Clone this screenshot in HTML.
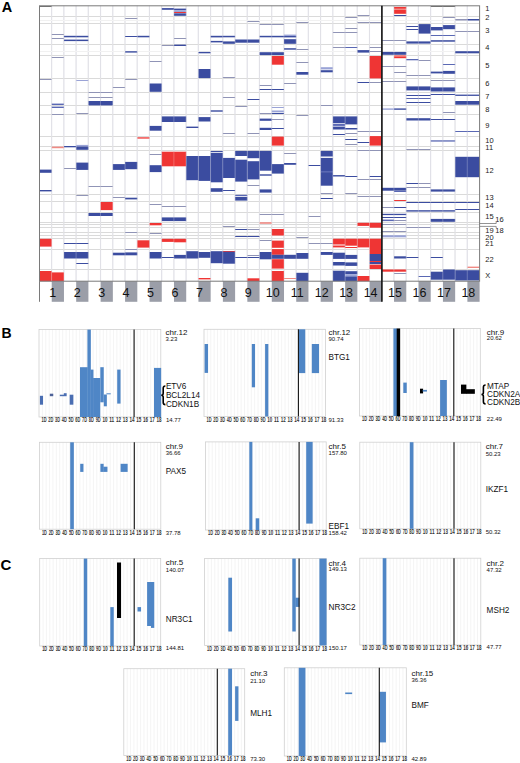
<!DOCTYPE html><html><head><meta charset="utf-8"><style>html,body{margin:0;padding:0;background:#fff;}svg{display:block;}text{font-family:"Liberation Sans",sans-serif;}</style></head><body>
<svg width="520" height="763" viewBox="0 0 520 763">
<rect x="0" y="0" width="520" height="763" fill="#fff"/>
<text x="1.7" y="11.6" font-size="14.5" font-weight="bold" fill="#000">A</text>
<line x1="51.62" y1="5.8" x2="51.62" y2="281.2" stroke="#d8d8e0" stroke-width="1.1"/>
<line x1="63.85" y1="5.8" x2="63.85" y2="281.2" stroke="#d8d8e0" stroke-width="1.1"/>
<line x1="76.08" y1="5.8" x2="76.08" y2="281.2" stroke="#d8d8e0" stroke-width="1.1"/>
<line x1="88.30" y1="5.8" x2="88.30" y2="281.2" stroke="#d8d8e0" stroke-width="1.1"/>
<line x1="100.53" y1="5.8" x2="100.53" y2="281.2" stroke="#d8d8e0" stroke-width="1.1"/>
<line x1="112.75" y1="5.8" x2="112.75" y2="281.2" stroke="#d8d8e0" stroke-width="1.1"/>
<line x1="124.98" y1="5.8" x2="124.98" y2="281.2" stroke="#d8d8e0" stroke-width="1.1"/>
<line x1="137.20" y1="5.8" x2="137.20" y2="281.2" stroke="#d8d8e0" stroke-width="1.1"/>
<line x1="149.43" y1="5.8" x2="149.43" y2="281.2" stroke="#d8d8e0" stroke-width="1.1"/>
<line x1="161.65" y1="5.8" x2="161.65" y2="281.2" stroke="#d8d8e0" stroke-width="1.1"/>
<line x1="173.88" y1="5.8" x2="173.88" y2="281.2" stroke="#d8d8e0" stroke-width="1.1"/>
<line x1="186.10" y1="5.8" x2="186.10" y2="281.2" stroke="#d8d8e0" stroke-width="1.1"/>
<line x1="198.33" y1="5.8" x2="198.33" y2="281.2" stroke="#d8d8e0" stroke-width="1.1"/>
<line x1="210.55" y1="5.8" x2="210.55" y2="281.2" stroke="#d8d8e0" stroke-width="1.1"/>
<line x1="222.78" y1="5.8" x2="222.78" y2="281.2" stroke="#d8d8e0" stroke-width="1.1"/>
<line x1="235.00" y1="5.8" x2="235.00" y2="281.2" stroke="#d8d8e0" stroke-width="1.1"/>
<line x1="247.23" y1="5.8" x2="247.23" y2="281.2" stroke="#d8d8e0" stroke-width="1.1"/>
<line x1="259.45" y1="5.8" x2="259.45" y2="281.2" stroke="#d8d8e0" stroke-width="1.1"/>
<line x1="271.68" y1="5.8" x2="271.68" y2="281.2" stroke="#d8d8e0" stroke-width="1.1"/>
<line x1="283.90" y1="5.8" x2="283.90" y2="281.2" stroke="#d8d8e0" stroke-width="1.1"/>
<line x1="296.12" y1="5.8" x2="296.12" y2="281.2" stroke="#d8d8e0" stroke-width="1.1"/>
<line x1="308.35" y1="5.8" x2="308.35" y2="281.2" stroke="#d8d8e0" stroke-width="1.1"/>
<line x1="320.57" y1="5.8" x2="320.57" y2="281.2" stroke="#d8d8e0" stroke-width="1.1"/>
<line x1="332.80" y1="5.8" x2="332.80" y2="281.2" stroke="#d8d8e0" stroke-width="1.1"/>
<line x1="345.03" y1="5.8" x2="345.03" y2="281.2" stroke="#d8d8e0" stroke-width="1.1"/>
<line x1="357.25" y1="5.8" x2="357.25" y2="281.2" stroke="#d8d8e0" stroke-width="1.1"/>
<line x1="369.48" y1="5.8" x2="369.48" y2="281.2" stroke="#d8d8e0" stroke-width="1.1"/>
<line x1="381.70" y1="5.8" x2="381.70" y2="281.2" stroke="#d8d8e0" stroke-width="1.1"/>
<line x1="393.93" y1="5.8" x2="393.93" y2="281.2" stroke="#d8d8e0" stroke-width="1.1"/>
<line x1="406.15" y1="5.8" x2="406.15" y2="281.2" stroke="#d8d8e0" stroke-width="1.1"/>
<line x1="418.38" y1="5.8" x2="418.38" y2="281.2" stroke="#d8d8e0" stroke-width="1.1"/>
<line x1="430.60" y1="5.8" x2="430.60" y2="281.2" stroke="#d8d8e0" stroke-width="1.1"/>
<line x1="442.83" y1="5.8" x2="442.83" y2="281.2" stroke="#d8d8e0" stroke-width="1.1"/>
<line x1="455.05" y1="5.8" x2="455.05" y2="281.2" stroke="#d8d8e0" stroke-width="1.1"/>
<line x1="467.28" y1="5.8" x2="467.28" y2="281.2" stroke="#d8d8e0" stroke-width="1.1"/>
<line x1="39.5" y1="16.5" x2="479.6" y2="16.5" stroke="#dadada" stroke-width="1"/>
<line x1="39.5" y1="23.5" x2="479.6" y2="23.5" stroke="#dadada" stroke-width="1"/>
<line x1="39.5" y1="44.5" x2="479.6" y2="44.5" stroke="#dadada" stroke-width="1"/>
<line x1="39.5" y1="55.5" x2="479.6" y2="55.5" stroke="#dadada" stroke-width="1"/>
<line x1="39.5" y1="78.5" x2="479.6" y2="78.5" stroke="#dadada" stroke-width="1"/>
<line x1="39.5" y1="92.5" x2="479.6" y2="92.5" stroke="#dadada" stroke-width="1"/>
<line x1="39.5" y1="105.5" x2="479.6" y2="105.5" stroke="#dadada" stroke-width="1"/>
<line x1="39.5" y1="114.5" x2="479.6" y2="114.5" stroke="#dadada" stroke-width="1"/>
<line x1="39.5" y1="136.5" x2="479.6" y2="136.5" stroke="#dadada" stroke-width="1"/>
<line x1="39.5" y1="146.5" x2="479.6" y2="146.5" stroke="#dadada" stroke-width="1"/>
<line x1="39.5" y1="150.5" x2="479.6" y2="150.5" stroke="#dadada" stroke-width="1"/>
<line x1="39.5" y1="194.5" x2="479.6" y2="194.5" stroke="#dadada" stroke-width="1"/>
<line x1="39.5" y1="201.5" x2="479.6" y2="201.5" stroke="#dadada" stroke-width="1"/>
<line x1="39.5" y1="212.5" x2="479.6" y2="212.5" stroke="#dadada" stroke-width="1"/>
<line x1="39.5" y1="222.5" x2="479.6" y2="222.5" stroke="#dadada" stroke-width="1"/>
<line x1="39.5" y1="224.5" x2="479.6" y2="224.5" stroke="#dadada" stroke-width="1"/>
<line x1="39.5" y1="227.5" x2="479.6" y2="227.5" stroke="#dadada" stroke-width="1"/>
<line x1="39.5" y1="232.5" x2="479.6" y2="232.5" stroke="#dadada" stroke-width="1"/>
<line x1="39.5" y1="235.5" x2="479.6" y2="235.5" stroke="#dadada" stroke-width="1"/>
<line x1="39.5" y1="238.5" x2="479.6" y2="238.5" stroke="#dadada" stroke-width="1"/>
<line x1="39.5" y1="249.5" x2="479.6" y2="249.5" stroke="#dadada" stroke-width="1"/>
<line x1="39.5" y1="269.5" x2="479.6" y2="269.5" stroke="#dadada" stroke-width="1"/>
<line x1="39.5" y1="20.5" x2="479.6" y2="20.5" stroke="#f1f1f1" stroke-width="1"/>
<line x1="39.5" y1="51.5" x2="479.6" y2="51.5" stroke="#f1f1f1" stroke-width="1"/>
<rect x="51.73" y="34" width="12.23" height="1.00" fill="#9094b6"/>
<rect x="51.73" y="38" width="12.23" height="1.00" fill="#9094b6"/>
<rect x="63.95" y="35.8" width="24.45" height="1.50" fill="#3b4ca0"/>
<rect x="63.95" y="39.6" width="24.45" height="1.50" fill="#3b4ca0"/>
<rect x="51.73" y="57" width="12.23" height="1.00" fill="#9094b6"/>
<rect x="39.50" y="6" width="12.23" height="1.00" fill="#707070"/>
<rect x="430.70" y="6" width="24.45" height="1.00" fill="#707070"/>
<rect x="125.08" y="18" width="12.22" height="1.00" fill="#9094b6"/>
<rect x="125.08" y="36" width="12.22" height="1.00" fill="#3b4ca0"/>
<rect x="125.08" y="51.2" width="12.22" height="1.40" fill="#3b4ca0"/>
<rect x="137.30" y="35.8" width="12.22" height="1.50" fill="#3b4ca0"/>
<rect x="149.53" y="61" width="12.22" height="1.00" fill="#9094b6"/>
<rect x="161.75" y="8.1" width="12.23" height="1.70" fill="#3b4ca0"/>
<rect x="161.75" y="45" width="12.23" height="1.00" fill="#9094b6"/>
<rect x="173.98" y="8.6" width="12.22" height="1.60" fill="#3b4ca0"/>
<rect x="173.98" y="10.2" width="12.22" height="2.30" fill="#9aa3d6"/>
<rect x="173.98" y="12" width="12.22" height="1.00" fill="#ef3534"/>
<rect x="173.98" y="13.3" width="12.22" height="2.50" fill="#3b4ca0"/>
<rect x="173.98" y="38" width="12.22" height="1.00" fill="#9094b6"/>
<rect x="173.98" y="44.6" width="12.22" height="1.40" fill="#3b4ca0"/>
<rect x="198.43" y="51.9" width="12.23" height="1.40" fill="#3b4ca0"/>
<rect x="198.43" y="69.0" width="12.23" height="9.10" fill="#3b4ca0"/>
<rect x="210.65" y="35.8" width="12.22" height="1.60" fill="#3b4ca0"/>
<rect x="210.65" y="40.9" width="12.22" height="1.50" fill="#3b4ca0"/>
<rect x="222.88" y="35.8" width="12.22" height="1.50" fill="#3b4ca0"/>
<rect x="222.88" y="41.4" width="12.22" height="2.40" fill="#3b4ca0"/>
<rect x="235.10" y="39.5" width="12.22" height="3.20" fill="#3b4ca0"/>
<rect x="247.33" y="21" width="12.22" height="1.00" fill="#9094b6"/>
<rect x="247.33" y="39.5" width="12.22" height="3.20" fill="#3b4ca0"/>
<rect x="259.55" y="24" width="24.45" height="1.00" fill="#9094b6"/>
<rect x="259.55" y="35.8" width="24.45" height="1.50" fill="#3b4ca0"/>
<rect x="259.55" y="52.2" width="24.45" height="2.90" fill="#3b4ca0"/>
<rect x="271.78" y="56.0" width="12.22" height="8.70" fill="#ef3534"/>
<rect x="284.00" y="34.6" width="12.23" height="1.40" fill="#9aa3d6"/>
<rect x="284.00" y="36.0" width="12.23" height="1.40" fill="#3b4ca0"/>
<rect x="284.00" y="39.2" width="12.23" height="4.60" fill="#3b4ca0"/>
<rect x="284.00" y="48.2" width="12.23" height="1.50" fill="#3b4ca0"/>
<rect x="296.23" y="22" width="12.23" height="1.00" fill="#9094b6"/>
<rect x="296.23" y="49" width="12.23" height="1.00" fill="#9094b6"/>
<rect x="296.23" y="62" width="12.23" height="1.00" fill="#9094b6"/>
<rect x="296.23" y="72.0" width="12.23" height="2.70" fill="#3b4ca0"/>
<rect x="320.68" y="67.2" width="12.23" height="2.20" fill="#9aa3d6"/>
<rect x="320.68" y="70.2" width="12.23" height="2.10" fill="#3b4ca0"/>
<rect x="332.90" y="32" width="24.45" height="1.00" fill="#9094b6"/>
<rect x="332.90" y="47" width="12.23" height="1.00" fill="#9094b6"/>
<rect x="345.13" y="17" width="12.22" height="1.00" fill="#9094b6"/>
<rect x="345.13" y="28" width="12.22" height="1.00" fill="#9094b6"/>
<rect x="345.13" y="47" width="12.22" height="1.00" fill="#5a68b4"/>
<rect x="357.35" y="15" width="12.23" height="1.00" fill="#9094b6"/>
<rect x="357.35" y="22" width="12.23" height="1.00" fill="#9094b6"/>
<rect x="357.35" y="50.1" width="12.23" height="2.50" fill="#3b4ca0"/>
<rect x="369.58" y="22" width="12.23" height="1.00" fill="#9094b6"/>
<rect x="369.58" y="47" width="12.23" height="1.00" fill="#9094b6"/>
<rect x="369.58" y="51" width="12.23" height="1.00" fill="#9094b6"/>
<rect x="369.58" y="56.0" width="12.23" height="22.40" fill="#ef3534"/>
<rect x="381.80" y="40" width="24.45" height="1.00" fill="#9094b6"/>
<rect x="381.80" y="51.9" width="24.45" height="2.90" fill="#3b4ca0"/>
<rect x="381.80" y="66" width="24.45" height="1.00" fill="#9094b6"/>
<rect x="394.03" y="6.9" width="12.23" height="1.90" fill="#ef3534"/>
<rect x="394.03" y="9" width="12.23" height="1.00" fill="#f08a84"/>
<rect x="394.03" y="10.0" width="12.23" height="3.80" fill="#ef3534"/>
<rect x="394.03" y="15" width="12.23" height="1.00" fill="#3b4ca0"/>
<rect x="394.03" y="55" width="12.23" height="1.00" fill="#f08a84"/>
<rect x="394.03" y="56.3" width="12.23" height="1.90" fill="#ef3534"/>
<rect x="394.03" y="72" width="12.23" height="1.00" fill="#9094b6"/>
<rect x="406.25" y="26" width="12.22" height="1.00" fill="#3b4ca0"/>
<rect x="406.25" y="29" width="12.22" height="1.00" fill="#3b4ca0"/>
<rect x="406.25" y="41.4" width="24.45" height="2.20" fill="#3b4ca0"/>
<rect x="406.25" y="59.0" width="12.22" height="1.30" fill="#5a68b4"/>
<rect x="418.48" y="24.1" width="12.23" height="9.50" fill="#3b4ca0"/>
<rect x="418.48" y="60" width="12.23" height="1.00" fill="#9094b6"/>
<rect x="430.70" y="27.0" width="12.23" height="3.40" fill="#3b4ca0"/>
<rect x="430.70" y="35" width="24.45" height="1.00" fill="#5a68b4"/>
<rect x="430.70" y="40.2" width="24.45" height="1.50" fill="#3b4ca0"/>
<rect x="430.70" y="71.6" width="12.23" height="1.80" fill="#3b4ca0"/>
<rect x="442.93" y="17" width="12.22" height="1.00" fill="#9094b6"/>
<rect x="442.93" y="25" width="12.22" height="1.00" fill="#5a68b4"/>
<rect x="442.93" y="25.6" width="12.22" height="3.60" fill="#3b4ca0"/>
<rect x="442.93" y="64" width="12.22" height="1.00" fill="#5a68b4"/>
<rect x="442.93" y="70.9" width="12.22" height="2.90" fill="#3b4ca0"/>
<rect x="455.15" y="19.0" width="12.23" height="1.50" fill="#9094b6"/>
<rect x="455.15" y="31" width="24.45" height="1.00" fill="#9094b6"/>
<rect x="455.15" y="51.2" width="24.45" height="2.10" fill="#3b4ca0"/>
<rect x="467.38" y="19.0" width="12.22" height="1.50" fill="#3b4ca0"/>
<rect x="39.50" y="79" width="12.23" height="1.00" fill="#9094b6"/>
<rect x="51.73" y="103.6" width="12.23" height="1.40" fill="#5a68b4"/>
<rect x="51.73" y="106.6" width="12.23" height="1.40" fill="#5a68b4"/>
<rect x="51.73" y="114" width="12.23" height="1.00" fill="#9094b6"/>
<rect x="51.73" y="146.6" width="12.23" height="1.60" fill="#f08a84"/>
<rect x="63.95" y="146.0" width="12.23" height="1.30" fill="#3b4ca0"/>
<rect x="76.18" y="80" width="12.22" height="1.00" fill="#9aa3d6"/>
<rect x="76.18" y="113" width="12.22" height="1.00" fill="#9094b6"/>
<rect x="76.18" y="144.9" width="12.22" height="1.60" fill="#9aa3d6"/>
<rect x="76.18" y="146.5" width="12.22" height="3.30" fill="#3b4ca0"/>
<rect x="88.40" y="92" width="24.45" height="1.00" fill="#9094b6"/>
<rect x="88.40" y="97" width="24.45" height="1.00" fill="#9094b6"/>
<rect x="88.40" y="101.0" width="24.45" height="4.40" fill="#3b4ca0"/>
<rect x="112.85" y="87" width="12.23" height="1.00" fill="#9094b6"/>
<rect x="125.08" y="79" width="12.22" height="1.00" fill="#9094b6"/>
<rect x="149.53" y="83.5" width="12.22" height="8.30" fill="#3b4ca0"/>
<rect x="149.53" y="125.9" width="12.22" height="4.80" fill="#3b4ca0"/>
<rect x="137.30" y="137.3" width="12.22" height="1.30" fill="#ef3534"/>
<rect x="161.75" y="116.4" width="24.45" height="5.60" fill="#3b4ca0"/>
<rect x="186.20" y="126.6" width="12.22" height="1.40" fill="#3b4ca0"/>
<rect x="198.43" y="117.1" width="12.23" height="4.40" fill="#3b4ca0"/>
<rect x="210.65" y="110.3" width="12.22" height="1.40" fill="#3b4ca0"/>
<rect x="222.88" y="77" width="12.22" height="1.00" fill="#9094b6"/>
<rect x="222.88" y="97" width="12.22" height="1.00" fill="#9094b6"/>
<rect x="222.88" y="133" width="12.22" height="1.00" fill="#9094b6"/>
<rect x="235.10" y="106" width="12.22" height="1.00" fill="#9094b6"/>
<rect x="247.33" y="99" width="12.22" height="1.00" fill="#3b4ca0"/>
<rect x="247.33" y="133" width="12.22" height="1.00" fill="#9094b6"/>
<rect x="259.55" y="85" width="12.23" height="1.00" fill="#9094b6"/>
<rect x="259.55" y="89" width="12.23" height="1.00" fill="#3b4ca0"/>
<rect x="259.55" y="113" width="12.23" height="1.00" fill="#9094b6"/>
<rect x="259.55" y="118.6" width="12.23" height="2.20" fill="#3b4ca0"/>
<rect x="259.55" y="127.8" width="12.23" height="2.20" fill="#3b4ca0"/>
<rect x="271.78" y="89" width="12.22" height="1.00" fill="#3b4ca0"/>
<rect x="271.78" y="107" width="12.22" height="1.00" fill="#9aa3d6"/>
<rect x="271.78" y="110.5" width="12.22" height="1.80" fill="#9aa3d6"/>
<rect x="271.78" y="113" width="12.22" height="1.00" fill="#3b4ca0"/>
<rect x="271.78" y="119" width="12.22" height="1.00" fill="#9094b6"/>
<rect x="271.78" y="128" width="12.22" height="1.00" fill="#3b4ca0"/>
<rect x="271.78" y="136.6" width="12.22" height="9.00" fill="#ef3534"/>
<rect x="284.00" y="83" width="12.23" height="1.00" fill="#9094b6"/>
<rect x="296.23" y="115" width="12.23" height="1.00" fill="#9094b6"/>
<rect x="320.68" y="105" width="12.23" height="1.00" fill="#9094b6"/>
<rect x="357.35" y="82" width="12.23" height="1.00" fill="#3b4ca0"/>
<rect x="357.35" y="131" width="24.45" height="1.00" fill="#9094b6"/>
<rect x="357.35" y="142" width="12.23" height="1.00" fill="#3b4ca0"/>
<rect x="369.58" y="82" width="12.23" height="1.00" fill="#9094b6"/>
<rect x="369.58" y="136.1" width="12.23" height="9.50" fill="#ef3534"/>
<rect x="332.90" y="116.4" width="12.23" height="6.60" fill="#3b4ca0"/>
<rect x="332.90" y="123.7" width="12.23" height="2.20" fill="#5a68b4"/>
<rect x="332.90" y="126.6" width="12.23" height="2.90" fill="#3b4ca0"/>
<rect x="332.90" y="134" width="12.23" height="1.00" fill="#3b4ca0"/>
<rect x="345.13" y="116.4" width="12.22" height="8.00" fill="#3b4ca0"/>
<rect x="345.13" y="128.0" width="12.22" height="1.50" fill="#3b4ca0"/>
<rect x="345.13" y="133" width="12.22" height="1.00" fill="#9094b6"/>
<rect x="345.13" y="139" width="12.22" height="1.00" fill="#3b4ca0"/>
<rect x="345.13" y="144" width="12.22" height="1.00" fill="#9094b6"/>
<rect x="381.80" y="81" width="24.45" height="1.00" fill="#9094b6"/>
<rect x="381.80" y="108.4" width="12.22" height="1.40" fill="#9aa3d6"/>
<rect x="394.03" y="108.4" width="12.23" height="1.40" fill="#3b4ca0"/>
<rect x="406.25" y="75" width="24.45" height="1.00" fill="#9094b6"/>
<rect x="406.25" y="86.4" width="24.45" height="4.00" fill="#3b4ca0"/>
<rect x="406.25" y="95" width="24.45" height="1.00" fill="#3b4ca0"/>
<rect x="406.25" y="98" width="24.45" height="1.00" fill="#5a68b4"/>
<rect x="406.25" y="102" width="24.45" height="1.00" fill="#3b4ca0"/>
<rect x="406.25" y="118.2" width="24.45" height="2.30" fill="#3b4ca0"/>
<rect x="406.25" y="149" width="24.45" height="1.00" fill="#9094b6"/>
<rect x="430.70" y="80" width="24.45" height="1.00" fill="#9094b6"/>
<rect x="430.70" y="87.4" width="24.45" height="4.10" fill="#3b4ca0"/>
<rect x="430.70" y="94" width="24.45" height="1.00" fill="#3b4ca0"/>
<rect x="430.70" y="119" width="24.45" height="1.00" fill="#3b4ca0"/>
<rect x="430.70" y="140.3" width="24.45" height="1.30" fill="#5a68b4"/>
<rect x="442.93" y="112" width="12.22" height="1.00" fill="#9094b6"/>
<rect x="455.15" y="94.6" width="24.45" height="1.30" fill="#3b4ca0"/>
<rect x="455.15" y="101.0" width="24.45" height="3.70" fill="#3b4ca0"/>
<rect x="455.15" y="131" width="24.45" height="1.00" fill="#5a68b4"/>
<rect x="76.18" y="162.6" width="12.22" height="7.30" fill="#3b4ca0"/>
<rect x="76.18" y="195" width="12.22" height="1.00" fill="#9094b6"/>
<rect x="39.50" y="169.6" width="12.23" height="3.20" fill="#3b4ca0"/>
<rect x="39.50" y="190.0" width="12.23" height="1.40" fill="#3b4ca0"/>
<rect x="63.95" y="168" width="12.23" height="1.00" fill="#9094b6"/>
<rect x="88.40" y="186" width="24.45" height="1.00" fill="#9094b6"/>
<rect x="100.62" y="202.0" width="12.23" height="8.10" fill="#ef3534"/>
<rect x="88.40" y="213.0" width="24.45" height="3.00" fill="#3b4ca0"/>
<rect x="112.85" y="164.1" width="12.23" height="5.80" fill="#3b4ca0"/>
<rect x="112.85" y="197" width="12.23" height="1.00" fill="#9094b6"/>
<rect x="125.08" y="161.9" width="12.22" height="7.30" fill="#3b4ca0"/>
<rect x="125.08" y="197.7" width="12.22" height="1.70" fill="#3b4ca0"/>
<rect x="149.53" y="154" width="12.22" height="1.00" fill="#9094b6"/>
<rect x="149.53" y="165.2" width="12.22" height="6.90" fill="#3b4ca0"/>
<rect x="149.53" y="204" width="12.22" height="1.00" fill="#9094b6"/>
<rect x="161.75" y="151.7" width="24.45" height="14.60" fill="#ef3534"/>
<rect x="161.75" y="206" width="24.45" height="1.00" fill="#9094b6"/>
<rect x="161.75" y="217.4" width="24.45" height="3.70" fill="#3b4ca0"/>
<rect x="186.20" y="156.0" width="12.22" height="24.20" fill="#3b4ca0"/>
<rect x="198.43" y="156.0" width="12.23" height="24.90" fill="#3b4ca0"/>
<rect x="210.65" y="151" width="12.22" height="1.00" fill="#3b4ca0"/>
<rect x="210.65" y="152.8" width="12.22" height="29.50" fill="#3b4ca0"/>
<rect x="210.65" y="188.2" width="12.22" height="3.60" fill="#3b4ca0"/>
<rect x="222.88" y="157.9" width="12.22" height="20.10" fill="#3b4ca0"/>
<rect x="222.88" y="190" width="12.22" height="1.00" fill="#3b4ca0"/>
<rect x="235.10" y="150.9" width="12.22" height="5.10" fill="#3b4ca0"/>
<rect x="235.10" y="159.7" width="12.22" height="21.90" fill="#3b4ca0"/>
<rect x="235.10" y="194.8" width="12.22" height="1.40" fill="#5a68b4"/>
<rect x="235.10" y="197.0" width="12.22" height="3.60" fill="#3b4ca0"/>
<rect x="247.33" y="150.9" width="12.22" height="7.30" fill="#3b4ca0"/>
<rect x="247.33" y="161.2" width="12.22" height="18.20" fill="#3b4ca0"/>
<rect x="247.33" y="185" width="12.22" height="1.00" fill="#9094b6"/>
<rect x="259.55" y="150.9" width="12.23" height="19.80" fill="#3b4ca0"/>
<rect x="259.55" y="174.3" width="12.23" height="1.40" fill="#3b4ca0"/>
<rect x="259.55" y="189.4" width="12.23" height="3.20" fill="#3b4ca0"/>
<rect x="259.55" y="214" width="24.45" height="1.00" fill="#9094b6"/>
<rect x="271.78" y="164.1" width="12.22" height="9.50" fill="#3b4ca0"/>
<rect x="284.00" y="153" width="12.23" height="1.00" fill="#9094b6"/>
<rect x="284.00" y="163.0" width="12.23" height="1.80" fill="#3b4ca0"/>
<rect x="308.45" y="165" width="12.22" height="1.00" fill="#3b4ca0"/>
<rect x="308.45" y="216" width="12.22" height="1.00" fill="#9094b6"/>
<rect x="320.68" y="150.9" width="12.23" height="5.60" fill="#3b4ca0"/>
<rect x="320.68" y="157.9" width="12.23" height="13.50" fill="#3b4ca0"/>
<rect x="320.68" y="171" width="12.23" height="1.00" fill="#5a68b4"/>
<rect x="320.68" y="172.1" width="12.23" height="13.60" fill="#3b4ca0"/>
<rect x="320.68" y="193" width="12.23" height="1.00" fill="#9094b6"/>
<rect x="320.68" y="198" width="12.23" height="1.00" fill="#3b4ca0"/>
<rect x="332.90" y="175.1" width="12.23" height="1.40" fill="#3b4ca0"/>
<rect x="345.13" y="176" width="12.22" height="1.00" fill="#3b4ca0"/>
<rect x="345.13" y="193" width="12.22" height="1.00" fill="#9094b6"/>
<rect x="357.35" y="150" width="24.45" height="1.00" fill="#9094b6"/>
<rect x="357.35" y="179" width="24.45" height="1.00" fill="#9094b6"/>
<rect x="357.35" y="196" width="24.45" height="1.00" fill="#9094b6"/>
<rect x="369.58" y="176" width="12.23" height="1.00" fill="#3b4ca0"/>
<rect x="381.80" y="187.8" width="24.45" height="2.90" fill="#3b4ca0"/>
<rect x="394.03" y="191" width="12.23" height="1.00" fill="#5a68b4"/>
<rect x="381.80" y="207" width="12.22" height="1.00" fill="#9094b6"/>
<rect x="394.03" y="207" width="12.23" height="1.00" fill="#3b4ca0"/>
<rect x="381.80" y="213.8" width="24.45" height="1.30" fill="#3b4ca0"/>
<rect x="381.80" y="217" width="24.45" height="1.00" fill="#3b4ca0"/>
<rect x="381.80" y="219.6" width="12.22" height="1.50" fill="#5a68b4"/>
<rect x="394.03" y="220" width="12.23" height="1.00" fill="#9094b6"/>
<rect x="394.03" y="200" width="12.23" height="1.00" fill="#ef3534"/>
<rect x="406.25" y="183" width="12.22" height="1.00" fill="#3b4ca0"/>
<rect x="418.48" y="183" width="12.23" height="1.00" fill="#9094b6"/>
<rect x="406.25" y="187" width="24.45" height="1.00" fill="#9094b6"/>
<rect x="406.25" y="202" width="73.35" height="1.00" fill="#3b4ca0"/>
<rect x="406.25" y="210.2" width="48.90" height="1.40" fill="#3b4ca0"/>
<rect x="455.15" y="209" width="24.45" height="1.00" fill="#3b4ca0"/>
<rect x="430.70" y="189.4" width="24.45" height="2.20" fill="#3b4ca0"/>
<rect x="430.70" y="218.9" width="24.45" height="2.90" fill="#3b4ca0"/>
<rect x="455.15" y="156.8" width="24.45" height="20.40" fill="#3b4ca0"/>
<rect x="39.50" y="238.8" width="12.23" height="7.80" fill="#ef3534"/>
<rect x="39.50" y="271.0" width="12.23" height="10.20" fill="#ef3534"/>
<rect x="51.73" y="272.4" width="12.23" height="8.80" fill="#ef3534"/>
<rect x="63.95" y="243" width="24.45" height="1.00" fill="#3b4ca0"/>
<rect x="63.95" y="252.0" width="24.45" height="6.50" fill="#3b4ca0"/>
<rect x="76.18" y="263" width="12.22" height="1.00" fill="#3b4ca0"/>
<rect x="112.85" y="252.7" width="12.23" height="2.60" fill="#3b4ca0"/>
<rect x="125.08" y="232" width="12.22" height="1.00" fill="#9094b6"/>
<rect x="125.08" y="249" width="12.22" height="1.00" fill="#9094b6"/>
<rect x="125.08" y="252.4" width="12.22" height="2.90" fill="#3b4ca0"/>
<rect x="137.30" y="240.3" width="12.22" height="7.30" fill="#ef3534"/>
<rect x="149.53" y="223.0" width="12.22" height="2.30" fill="#ef3534"/>
<rect x="149.53" y="233" width="12.22" height="1.00" fill="#9094b6"/>
<rect x="149.53" y="252.0" width="12.22" height="6.50" fill="#3b4ca0"/>
<rect x="161.75" y="238.8" width="12.23" height="3.10" fill="#ef3534"/>
<rect x="161.75" y="257" width="12.23" height="1.00" fill="#3b4ca0"/>
<rect x="173.98" y="238.8" width="12.22" height="3.50" fill="#ef3534"/>
<rect x="173.98" y="254.9" width="12.22" height="3.60" fill="#3b4ca0"/>
<rect x="186.20" y="251.2" width="12.22" height="7.30" fill="#3b4ca0"/>
<rect x="198.43" y="252.0" width="12.23" height="5.80" fill="#3b4ca0"/>
<rect x="198.43" y="278.0" width="12.23" height="1.40" fill="#ef3534"/>
<rect x="210.65" y="251.2" width="12.22" height="12.00" fill="#3b4ca0"/>
<rect x="222.88" y="226" width="12.22" height="1.00" fill="#9094b6"/>
<rect x="222.88" y="251" width="12.22" height="1.00" fill="#ef3534"/>
<rect x="222.88" y="251.7" width="12.22" height="12.00" fill="#3b4ca0"/>
<rect x="235.10" y="229" width="12.22" height="1.00" fill="#3b4ca0"/>
<rect x="247.33" y="229" width="12.22" height="1.00" fill="#9094b6"/>
<rect x="235.10" y="236" width="24.45" height="1.00" fill="#3b4ca0"/>
<rect x="235.10" y="257" width="12.22" height="1.00" fill="#3b4ca0"/>
<rect x="247.33" y="255" width="12.22" height="1.00" fill="#9094b6"/>
<rect x="247.33" y="257" width="12.22" height="1.00" fill="#3b4ca0"/>
<rect x="247.33" y="278.3" width="12.22" height="2.90" fill="#ef3534"/>
<rect x="259.55" y="222.2" width="12.23" height="1.60" fill="#f08a84"/>
<rect x="259.55" y="240" width="12.23" height="1.00" fill="#9094b6"/>
<rect x="259.55" y="252.0" width="12.23" height="7.30" fill="#3b4ca0"/>
<rect x="271.78" y="229.0" width="12.22" height="6.50" fill="#ef3534"/>
<rect x="271.78" y="240.6" width="12.22" height="7.20" fill="#ef3534"/>
<rect x="271.78" y="249.1" width="12.22" height="5.70" fill="#ef3534"/>
<rect x="271.78" y="254.8" width="12.22" height="4.00" fill="#3b4ca0"/>
<rect x="271.78" y="259.2" width="12.22" height="9.40" fill="#ef3534"/>
<rect x="271.78" y="271.0" width="12.22" height="10.20" fill="#ef3534"/>
<rect x="284.00" y="254.8" width="12.23" height="4.00" fill="#3b4ca0"/>
<rect x="284.00" y="278" width="12.23" height="1.00" fill="#f08a84"/>
<rect x="296.23" y="237" width="12.23" height="1.00" fill="#9094b6"/>
<rect x="296.23" y="253.0" width="12.23" height="5.80" fill="#3b4ca0"/>
<rect x="296.23" y="272.8" width="12.23" height="8.40" fill="#3b4ca0"/>
<rect x="308.45" y="243" width="24.45" height="1.00" fill="#9094b6"/>
<rect x="320.68" y="252.0" width="12.23" height="2.90" fill="#3b4ca0"/>
<rect x="332.90" y="238.7" width="12.23" height="5.80" fill="#ef3534"/>
<rect x="332.90" y="245.5" width="12.23" height="1.90" fill="#ef3534"/>
<rect x="332.90" y="252.7" width="12.23" height="6.20" fill="#3b4ca0"/>
<rect x="332.90" y="262.0" width="12.23" height="3.50" fill="#3b4ca0"/>
<rect x="332.90" y="270.7" width="12.23" height="10.50" fill="#3b4ca0"/>
<rect x="345.13" y="238.7" width="12.22" height="7.00" fill="#ef3534"/>
<rect x="345.13" y="247" width="12.22" height="1.00" fill="#ef3534"/>
<rect x="345.13" y="254.9" width="12.22" height="4.00" fill="#3b4ca0"/>
<rect x="345.13" y="262.4" width="12.22" height="3.50" fill="#3b4ca0"/>
<rect x="345.13" y="271.2" width="12.22" height="3.00" fill="#3b4ca0"/>
<rect x="345.13" y="274.2" width="12.22" height="2.20" fill="#9aa3d6"/>
<rect x="345.13" y="276.4" width="12.22" height="4.80" fill="#3b4ca0"/>
<rect x="357.35" y="222.8" width="12.23" height="3.10" fill="#ef3534"/>
<rect x="357.35" y="238.7" width="12.23" height="8.70" fill="#ef3534"/>
<rect x="357.35" y="276.0" width="12.23" height="5.20" fill="#ef3534"/>
<rect x="369.58" y="222.8" width="12.23" height="4.90" fill="#ef3534"/>
<rect x="369.58" y="238.7" width="12.23" height="15.30" fill="#ef3534"/>
<rect x="369.58" y="254.0" width="12.23" height="7.00" fill="#3b4ca0"/>
<rect x="369.58" y="261" width="12.23" height="1.00" fill="#ef3534"/>
<rect x="369.58" y="262.0" width="12.23" height="2.10" fill="#3b4ca0"/>
<rect x="369.58" y="264.6" width="12.23" height="4.40" fill="#ef3534"/>
<rect x="381.80" y="224" width="24.45" height="1.00" fill="#9094b6"/>
<rect x="381.80" y="231" width="24.45" height="1.00" fill="#9094b6"/>
<rect x="381.80" y="235.2" width="24.45" height="2.10" fill="#9aa3d6"/>
<rect x="394.03" y="256.3" width="12.23" height="2.20" fill="#3b4ca0"/>
<rect x="381.80" y="269.5" width="24.45" height="2.20" fill="#ef3534"/>
<rect x="394.03" y="273" width="12.23" height="1.00" fill="#9094b6"/>
<rect x="406.25" y="227" width="24.45" height="1.00" fill="#9094b6"/>
<rect x="406.25" y="257" width="12.22" height="1.00" fill="#3b4ca0"/>
<rect x="418.48" y="276" width="12.23" height="1.00" fill="#5a68b4"/>
<rect x="430.70" y="257" width="12.23" height="1.00" fill="#3b4ca0"/>
<rect x="430.70" y="271.7" width="12.23" height="8.00" fill="#3b4ca0"/>
<rect x="442.93" y="269.5" width="12.22" height="10.20" fill="#3b4ca0"/>
<rect x="455.15" y="270.2" width="24.45" height="10.30" fill="#3b4ca0"/>
<rect x="467.38" y="266.6" width="12.22" height="1.40" fill="#f08a84"/>
<line x1="51.62" y1="5.8" x2="51.62" y2="281.2" stroke="#ffffff" stroke-opacity="0.25" stroke-width="1"/>
<line x1="63.85" y1="5.8" x2="63.85" y2="281.2" stroke="#ffffff" stroke-opacity="0.25" stroke-width="1"/>
<line x1="76.08" y1="5.8" x2="76.08" y2="281.2" stroke="#ffffff" stroke-opacity="0.25" stroke-width="1"/>
<line x1="88.30" y1="5.8" x2="88.30" y2="281.2" stroke="#ffffff" stroke-opacity="0.25" stroke-width="1"/>
<line x1="100.53" y1="5.8" x2="100.53" y2="281.2" stroke="#ffffff" stroke-opacity="0.25" stroke-width="1"/>
<line x1="112.75" y1="5.8" x2="112.75" y2="281.2" stroke="#ffffff" stroke-opacity="0.25" stroke-width="1"/>
<line x1="124.98" y1="5.8" x2="124.98" y2="281.2" stroke="#ffffff" stroke-opacity="0.25" stroke-width="1"/>
<line x1="137.20" y1="5.8" x2="137.20" y2="281.2" stroke="#ffffff" stroke-opacity="0.25" stroke-width="1"/>
<line x1="149.43" y1="5.8" x2="149.43" y2="281.2" stroke="#ffffff" stroke-opacity="0.25" stroke-width="1"/>
<line x1="161.65" y1="5.8" x2="161.65" y2="281.2" stroke="#ffffff" stroke-opacity="0.25" stroke-width="1"/>
<line x1="173.88" y1="5.8" x2="173.88" y2="281.2" stroke="#ffffff" stroke-opacity="0.25" stroke-width="1"/>
<line x1="186.10" y1="5.8" x2="186.10" y2="281.2" stroke="#ffffff" stroke-opacity="0.25" stroke-width="1"/>
<line x1="198.33" y1="5.8" x2="198.33" y2="281.2" stroke="#ffffff" stroke-opacity="0.25" stroke-width="1"/>
<line x1="210.55" y1="5.8" x2="210.55" y2="281.2" stroke="#ffffff" stroke-opacity="0.25" stroke-width="1"/>
<line x1="222.78" y1="5.8" x2="222.78" y2="281.2" stroke="#ffffff" stroke-opacity="0.25" stroke-width="1"/>
<line x1="235.00" y1="5.8" x2="235.00" y2="281.2" stroke="#ffffff" stroke-opacity="0.25" stroke-width="1"/>
<line x1="247.23" y1="5.8" x2="247.23" y2="281.2" stroke="#ffffff" stroke-opacity="0.25" stroke-width="1"/>
<line x1="259.45" y1="5.8" x2="259.45" y2="281.2" stroke="#ffffff" stroke-opacity="0.25" stroke-width="1"/>
<line x1="271.68" y1="5.8" x2="271.68" y2="281.2" stroke="#ffffff" stroke-opacity="0.25" stroke-width="1"/>
<line x1="283.90" y1="5.8" x2="283.90" y2="281.2" stroke="#ffffff" stroke-opacity="0.25" stroke-width="1"/>
<line x1="296.12" y1="5.8" x2="296.12" y2="281.2" stroke="#ffffff" stroke-opacity="0.25" stroke-width="1"/>
<line x1="308.35" y1="5.8" x2="308.35" y2="281.2" stroke="#ffffff" stroke-opacity="0.25" stroke-width="1"/>
<line x1="320.57" y1="5.8" x2="320.57" y2="281.2" stroke="#ffffff" stroke-opacity="0.25" stroke-width="1"/>
<line x1="332.80" y1="5.8" x2="332.80" y2="281.2" stroke="#ffffff" stroke-opacity="0.25" stroke-width="1"/>
<line x1="345.03" y1="5.8" x2="345.03" y2="281.2" stroke="#ffffff" stroke-opacity="0.25" stroke-width="1"/>
<line x1="357.25" y1="5.8" x2="357.25" y2="281.2" stroke="#ffffff" stroke-opacity="0.25" stroke-width="1"/>
<line x1="369.48" y1="5.8" x2="369.48" y2="281.2" stroke="#ffffff" stroke-opacity="0.25" stroke-width="1"/>
<line x1="381.70" y1="5.8" x2="381.70" y2="281.2" stroke="#ffffff" stroke-opacity="0.25" stroke-width="1"/>
<line x1="393.93" y1="5.8" x2="393.93" y2="281.2" stroke="#ffffff" stroke-opacity="0.25" stroke-width="1"/>
<line x1="406.15" y1="5.8" x2="406.15" y2="281.2" stroke="#ffffff" stroke-opacity="0.25" stroke-width="1"/>
<line x1="418.38" y1="5.8" x2="418.38" y2="281.2" stroke="#ffffff" stroke-opacity="0.25" stroke-width="1"/>
<line x1="430.60" y1="5.8" x2="430.60" y2="281.2" stroke="#ffffff" stroke-opacity="0.25" stroke-width="1"/>
<line x1="442.83" y1="5.8" x2="442.83" y2="281.2" stroke="#ffffff" stroke-opacity="0.25" stroke-width="1"/>
<line x1="455.05" y1="5.8" x2="455.05" y2="281.2" stroke="#ffffff" stroke-opacity="0.25" stroke-width="1"/>
<line x1="467.28" y1="5.8" x2="467.28" y2="281.2" stroke="#ffffff" stroke-opacity="0.25" stroke-width="1"/>
<rect x="51.73" y="281.2" width="12.23" height="20.60" fill="#9b9ea8"/>
<rect x="76.18" y="281.2" width="12.23" height="20.60" fill="#9b9ea8"/>
<rect x="100.62" y="281.2" width="12.23" height="20.60" fill="#9b9ea8"/>
<rect x="125.08" y="281.2" width="12.23" height="20.60" fill="#9b9ea8"/>
<rect x="149.53" y="281.2" width="12.23" height="20.60" fill="#9b9ea8"/>
<rect x="173.98" y="281.2" width="12.23" height="20.60" fill="#9b9ea8"/>
<rect x="198.43" y="281.2" width="12.23" height="20.60" fill="#9b9ea8"/>
<rect x="222.88" y="281.2" width="12.23" height="20.60" fill="#9b9ea8"/>
<rect x="247.33" y="281.2" width="12.23" height="20.60" fill="#9b9ea8"/>
<rect x="271.78" y="281.2" width="12.23" height="20.60" fill="#9b9ea8"/>
<rect x="296.23" y="281.2" width="12.23" height="20.60" fill="#9b9ea8"/>
<rect x="320.68" y="281.2" width="12.23" height="20.60" fill="#9b9ea8"/>
<rect x="345.13" y="281.2" width="12.23" height="20.60" fill="#9b9ea8"/>
<rect x="369.58" y="281.2" width="12.23" height="20.60" fill="#9b9ea8"/>
<rect x="394.03" y="281.2" width="12.23" height="20.60" fill="#9b9ea8"/>
<rect x="418.48" y="281.2" width="12.23" height="20.60" fill="#9b9ea8"/>
<rect x="442.93" y="281.2" width="12.23" height="20.60" fill="#9b9ea8"/>
<rect x="467.38" y="281.2" width="12.23" height="20.60" fill="#9b9ea8"/>
<text x="52.73" y="296.5" font-size="12.5" text-anchor="middle" fill="#111">1</text>
<text x="77.18" y="296.5" font-size="12.5" text-anchor="middle" fill="#111">2</text>
<text x="101.62" y="296.5" font-size="12.5" text-anchor="middle" fill="#111">3</text>
<text x="126.08" y="296.5" font-size="12.5" text-anchor="middle" fill="#111">4</text>
<text x="150.53" y="296.5" font-size="12.5" text-anchor="middle" fill="#111">5</text>
<text x="174.98" y="296.5" font-size="12.5" text-anchor="middle" fill="#111">6</text>
<text x="199.43" y="296.5" font-size="12.5" text-anchor="middle" fill="#111">7</text>
<text x="223.88" y="296.5" font-size="12.5" text-anchor="middle" fill="#111">8</text>
<text x="248.33" y="296.5" font-size="12.5" text-anchor="middle" fill="#111">9</text>
<text x="272.78" y="296.5" font-size="12.5" text-anchor="middle" fill="#111">10</text>
<text x="297.23" y="296.5" font-size="12.5" text-anchor="middle" fill="#111">11</text>
<text x="321.68" y="296.5" font-size="12.5" text-anchor="middle" fill="#111">12</text>
<text x="346.13" y="296.5" font-size="12.5" text-anchor="middle" fill="#111">13</text>
<text x="370.58" y="296.5" font-size="12.5" text-anchor="middle" fill="#111">14</text>
<text x="395.03" y="296.5" font-size="12.5" text-anchor="middle" fill="#111">15</text>
<text x="419.48" y="296.5" font-size="12.5" text-anchor="middle" fill="#111">16</text>
<text x="443.93" y="296.5" font-size="12.5" text-anchor="middle" fill="#111">17</text>
<text x="468.38" y="296.5" font-size="12.5" text-anchor="middle" fill="#111">18</text>
<rect x="39.5" y="5.8" width="440.10" height="275.40" fill="none" stroke="#7a7a7a" stroke-width="1"/>
<line x1="39.5" y1="281.2" x2="39.5" y2="301.8" stroke="#7a7a7a" stroke-width="1"/>
<line x1="381.9" y1="5.8" x2="381.9" y2="301.8" stroke="#111" stroke-width="1.6"/>
<text x="485.3" y="10.8" font-size="7.5" fill="#222">1</text>
<text x="485.3" y="19.8" font-size="7.5" fill="#222">2</text>
<text x="485.3" y="32.6" font-size="7.5" fill="#222">3</text>
<text x="485.3" y="49.7" font-size="7.5" fill="#222">4</text>
<text x="485.3" y="67.9" font-size="7.5" fill="#222">5</text>
<text x="485.3" y="86.2" font-size="7.5" fill="#222">6</text>
<text x="485.3" y="99.4" font-size="7.5" fill="#222">7</text>
<text x="485.3" y="111.8" font-size="7.5" fill="#222">8</text>
<text x="485.3" y="127.9" font-size="7.5" fill="#222">9</text>
<text x="485.3" y="143.2" font-size="7.5" fill="#222">10</text>
<text x="485.3" y="149.7" font-size="7.5" fill="#222">11</text>
<text x="485.3" y="173.0" font-size="7.5" fill="#222">12</text>
<text x="485.3" y="200.0" font-size="7.5" fill="#222">13</text>
<text x="485.3" y="207.9" font-size="7.5" fill="#222">14</text>
<text x="485.3" y="219.3" font-size="7.5" fill="#222">15</text>
<text x="485.3" y="239.5" font-size="7.5" fill="#222">20</text>
<text x="485.3" y="245.8" font-size="7.5" fill="#222">21</text>
<text x="485.3" y="261.6" font-size="7.5" fill="#222">22</text>
<text x="485.3" y="278.3" font-size="7.5" fill="#222">X</text>
<text x="485.3" y="233.3" font-size="7.5" fill="#222">19</text>
<text x="495.3" y="221.8" font-size="7.5" fill="#222">16</text>
<text x="495.3" y="233.4" font-size="7.5" fill="#222">18</text>
<polyline points="479.6,223.5 496.2,223.5 496.2,221.5" fill="none" stroke="#777" stroke-width="0.8"/>
<polyline points="479.6,226.4 496.2,226.4 496.2,228" fill="none" stroke="#777" stroke-width="0.8"/>
<text x="1.4" y="337.7" font-size="14" font-weight="bold" fill="#000">B</text>
<text x="0.6" y="570.4" font-size="15" font-weight="bold" fill="#000">C</text>
<line x1="42.38" y1="329.4" x2="42.38" y2="417.0" stroke="#f1f1f1" stroke-width="0.8"/>
<line x1="45.77" y1="329.4" x2="45.77" y2="417.0" stroke="#f1f1f1" stroke-width="0.8"/>
<line x1="49.15" y1="329.4" x2="49.15" y2="417.0" stroke="#f1f1f1" stroke-width="0.8"/>
<line x1="52.53" y1="329.4" x2="52.53" y2="417.0" stroke="#f1f1f1" stroke-width="0.8"/>
<line x1="55.92" y1="329.4" x2="55.92" y2="417.0" stroke="#f1f1f1" stroke-width="0.8"/>
<line x1="59.30" y1="329.4" x2="59.30" y2="417.0" stroke="#f1f1f1" stroke-width="0.8"/>
<line x1="62.68" y1="329.4" x2="62.68" y2="417.0" stroke="#f1f1f1" stroke-width="0.8"/>
<line x1="66.07" y1="329.4" x2="66.07" y2="417.0" stroke="#f1f1f1" stroke-width="0.8"/>
<line x1="69.45" y1="329.4" x2="69.45" y2="417.0" stroke="#f1f1f1" stroke-width="0.8"/>
<line x1="72.83" y1="329.4" x2="72.83" y2="417.0" stroke="#f1f1f1" stroke-width="0.8"/>
<line x1="76.22" y1="329.4" x2="76.22" y2="417.0" stroke="#f1f1f1" stroke-width="0.8"/>
<line x1="79.60" y1="329.4" x2="79.60" y2="417.0" stroke="#f1f1f1" stroke-width="0.8"/>
<line x1="82.98" y1="329.4" x2="82.98" y2="417.0" stroke="#f1f1f1" stroke-width="0.8"/>
<line x1="86.37" y1="329.4" x2="86.37" y2="417.0" stroke="#f1f1f1" stroke-width="0.8"/>
<line x1="89.75" y1="329.4" x2="89.75" y2="417.0" stroke="#f1f1f1" stroke-width="0.8"/>
<line x1="93.13" y1="329.4" x2="93.13" y2="417.0" stroke="#f1f1f1" stroke-width="0.8"/>
<line x1="96.52" y1="329.4" x2="96.52" y2="417.0" stroke="#f1f1f1" stroke-width="0.8"/>
<line x1="99.90" y1="329.4" x2="99.90" y2="417.0" stroke="#f1f1f1" stroke-width="0.8"/>
<line x1="103.28" y1="329.4" x2="103.28" y2="417.0" stroke="#f1f1f1" stroke-width="0.8"/>
<line x1="106.67" y1="329.4" x2="106.67" y2="417.0" stroke="#f1f1f1" stroke-width="0.8"/>
<line x1="110.05" y1="329.4" x2="110.05" y2="417.0" stroke="#f1f1f1" stroke-width="0.8"/>
<line x1="113.43" y1="329.4" x2="113.43" y2="417.0" stroke="#f1f1f1" stroke-width="0.8"/>
<line x1="116.82" y1="329.4" x2="116.82" y2="417.0" stroke="#f1f1f1" stroke-width="0.8"/>
<line x1="120.20" y1="329.4" x2="120.20" y2="417.0" stroke="#f1f1f1" stroke-width="0.8"/>
<line x1="123.58" y1="329.4" x2="123.58" y2="417.0" stroke="#f1f1f1" stroke-width="0.8"/>
<line x1="126.97" y1="329.4" x2="126.97" y2="417.0" stroke="#f1f1f1" stroke-width="0.8"/>
<line x1="130.35" y1="329.4" x2="130.35" y2="417.0" stroke="#f1f1f1" stroke-width="0.8"/>
<line x1="133.73" y1="329.4" x2="133.73" y2="417.0" stroke="#f1f1f1" stroke-width="0.8"/>
<line x1="137.12" y1="329.4" x2="137.12" y2="417.0" stroke="#f1f1f1" stroke-width="0.8"/>
<line x1="140.50" y1="329.4" x2="140.50" y2="417.0" stroke="#f1f1f1" stroke-width="0.8"/>
<line x1="143.88" y1="329.4" x2="143.88" y2="417.0" stroke="#f1f1f1" stroke-width="0.8"/>
<line x1="147.27" y1="329.4" x2="147.27" y2="417.0" stroke="#f1f1f1" stroke-width="0.8"/>
<line x1="150.65" y1="329.4" x2="150.65" y2="417.0" stroke="#f1f1f1" stroke-width="0.8"/>
<line x1="154.03" y1="329.4" x2="154.03" y2="417.0" stroke="#f1f1f1" stroke-width="0.8"/>
<line x1="157.42" y1="329.4" x2="157.42" y2="417.0" stroke="#f1f1f1" stroke-width="0.8"/>
<rect x="39.0" y="329.4" width="121.80" height="87.60" fill="none" stroke="#d0d0d0" stroke-width="0.8"/>
<rect x="39.9" y="395.8" width="3.15" height="8.90" fill="#4a6eb2"/>
<rect x="49.8" y="393.7" width="3.45" height="2.50" fill="#4e6298"/>
<rect x="59.8" y="394.7" width="4.35" height="1.50" fill="#4a6eb2"/>
<rect x="63.8" y="393.2" width="2.85" height="3.00" fill="#4a6eb2"/>
<rect x="69.7" y="394.7" width="3.65" height="10.00" fill="#4a6eb2"/>
<rect x="80.0" y="367.2" width="7.75" height="49.80" fill="#4f86c6"/>
<rect x="87.4" y="329.6" width="3.45" height="87.40" fill="#4f86c6"/>
<rect x="90.5" y="369.6" width="2.95" height="47.40" fill="#4f86c6"/>
<rect x="93.1" y="378.0" width="7.15" height="39.00" fill="#4f86c6"/>
<rect x="100.3" y="367.2" width="3.45" height="35.10" fill="#4f86c6"/>
<rect x="103.8" y="394.5" width="3.05" height="11.80" fill="#4f86c6"/>
<rect x="106.5" y="393.3" width="4.25" height="1.00" fill="#4f86c6"/>
<rect x="117.2" y="369.6" width="3.35" height="34.00" fill="#4f86c6"/>
<rect x="154.0" y="367.9" width="7.15" height="49.10" fill="#4f86c6"/>
<line x1="134.1" y1="329.4" x2="134.1" y2="417.0" stroke="#111" stroke-width="1.1"/>
<text x="41.50" y="422.3" font-size="6.5" font-weight="bold" fill="#333" textLength="5" lengthAdjust="spacingAndGlyphs">1D</text>
<text x="48.27" y="422.3" font-size="6.5" font-weight="bold" fill="#333" textLength="5" lengthAdjust="spacingAndGlyphs">2D</text>
<text x="55.03" y="422.3" font-size="6.5" font-weight="bold" fill="#333" textLength="5" lengthAdjust="spacingAndGlyphs">3D</text>
<text x="61.80" y="422.3" font-size="6.5" font-weight="bold" fill="#333" textLength="5" lengthAdjust="spacingAndGlyphs">4D</text>
<text x="68.57" y="422.3" font-size="6.5" font-weight="bold" fill="#333" textLength="5" lengthAdjust="spacingAndGlyphs">5D</text>
<text x="75.33" y="422.3" font-size="6.5" font-weight="bold" fill="#333" textLength="5" lengthAdjust="spacingAndGlyphs">6D</text>
<text x="82.10" y="422.3" font-size="6.5" font-weight="bold" fill="#333" textLength="5" lengthAdjust="spacingAndGlyphs">7D</text>
<text x="88.87" y="422.3" font-size="6.5" font-weight="bold" fill="#333" textLength="5" lengthAdjust="spacingAndGlyphs">8D</text>
<text x="95.63" y="422.3" font-size="6.5" font-weight="bold" fill="#333" textLength="5" lengthAdjust="spacingAndGlyphs">9D</text>
<text x="102.40" y="422.3" font-size="6.5" font-weight="bold" fill="#333" textLength="5" lengthAdjust="spacingAndGlyphs">10</text>
<text x="109.17" y="422.3" font-size="6.5" font-weight="bold" fill="#333" textLength="5" lengthAdjust="spacingAndGlyphs">11</text>
<text x="115.93" y="422.3" font-size="6.5" font-weight="bold" fill="#333" textLength="5" lengthAdjust="spacingAndGlyphs">12</text>
<text x="122.70" y="422.3" font-size="6.5" font-weight="bold" fill="#333" textLength="5" lengthAdjust="spacingAndGlyphs">13</text>
<text x="129.47" y="422.3" font-size="6.5" font-weight="bold" fill="#333" textLength="5" lengthAdjust="spacingAndGlyphs">14</text>
<text x="136.23" y="422.3" font-size="6.5" font-weight="bold" fill="#333" textLength="5" lengthAdjust="spacingAndGlyphs">15</text>
<text x="143.00" y="422.3" font-size="6.5" font-weight="bold" fill="#333" textLength="5" lengthAdjust="spacingAndGlyphs">16</text>
<text x="149.77" y="422.3" font-size="6.5" font-weight="bold" fill="#333" textLength="5" lengthAdjust="spacingAndGlyphs">17</text>
<text x="156.53" y="422.3" font-size="6.5" font-weight="bold" fill="#333" textLength="5" lengthAdjust="spacingAndGlyphs">18</text>
<text x="165.6" y="335.3" font-size="8" fill="#111">chr.12</text>
<text x="165.6" y="340.9" font-size="6" fill="#111">3.23</text>
<text x="165.9" y="388.5" font-size="8.2" fill="#111">ETV6</text>
<text x="165.9" y="397.9" font-size="8.2" fill="#111">BCL2L14</text>
<text x="165.9" y="406.5" font-size="8.2" fill="#111">CDKN1B</text>
<text x="165.9" y="421.9" font-size="6" fill="#111">14.77</text>
<line x1="207.38" y1="329.3" x2="207.38" y2="416.5" stroke="#f1f1f1" stroke-width="0.8"/>
<line x1="210.75" y1="329.3" x2="210.75" y2="416.5" stroke="#f1f1f1" stroke-width="0.8"/>
<line x1="214.12" y1="329.3" x2="214.12" y2="416.5" stroke="#f1f1f1" stroke-width="0.8"/>
<line x1="217.50" y1="329.3" x2="217.50" y2="416.5" stroke="#f1f1f1" stroke-width="0.8"/>
<line x1="220.88" y1="329.3" x2="220.88" y2="416.5" stroke="#f1f1f1" stroke-width="0.8"/>
<line x1="224.25" y1="329.3" x2="224.25" y2="416.5" stroke="#f1f1f1" stroke-width="0.8"/>
<line x1="227.62" y1="329.3" x2="227.62" y2="416.5" stroke="#f1f1f1" stroke-width="0.8"/>
<line x1="231.00" y1="329.3" x2="231.00" y2="416.5" stroke="#f1f1f1" stroke-width="0.8"/>
<line x1="234.38" y1="329.3" x2="234.38" y2="416.5" stroke="#f1f1f1" stroke-width="0.8"/>
<line x1="237.75" y1="329.3" x2="237.75" y2="416.5" stroke="#f1f1f1" stroke-width="0.8"/>
<line x1="241.12" y1="329.3" x2="241.12" y2="416.5" stroke="#f1f1f1" stroke-width="0.8"/>
<line x1="244.50" y1="329.3" x2="244.50" y2="416.5" stroke="#f1f1f1" stroke-width="0.8"/>
<line x1="247.88" y1="329.3" x2="247.88" y2="416.5" stroke="#f1f1f1" stroke-width="0.8"/>
<line x1="251.25" y1="329.3" x2="251.25" y2="416.5" stroke="#f1f1f1" stroke-width="0.8"/>
<line x1="254.62" y1="329.3" x2="254.62" y2="416.5" stroke="#f1f1f1" stroke-width="0.8"/>
<line x1="258.00" y1="329.3" x2="258.00" y2="416.5" stroke="#f1f1f1" stroke-width="0.8"/>
<line x1="261.38" y1="329.3" x2="261.38" y2="416.5" stroke="#f1f1f1" stroke-width="0.8"/>
<line x1="264.75" y1="329.3" x2="264.75" y2="416.5" stroke="#f1f1f1" stroke-width="0.8"/>
<line x1="268.12" y1="329.3" x2="268.12" y2="416.5" stroke="#f1f1f1" stroke-width="0.8"/>
<line x1="271.50" y1="329.3" x2="271.50" y2="416.5" stroke="#f1f1f1" stroke-width="0.8"/>
<line x1="274.88" y1="329.3" x2="274.88" y2="416.5" stroke="#f1f1f1" stroke-width="0.8"/>
<line x1="278.25" y1="329.3" x2="278.25" y2="416.5" stroke="#f1f1f1" stroke-width="0.8"/>
<line x1="281.62" y1="329.3" x2="281.62" y2="416.5" stroke="#f1f1f1" stroke-width="0.8"/>
<line x1="285.00" y1="329.3" x2="285.00" y2="416.5" stroke="#f1f1f1" stroke-width="0.8"/>
<line x1="288.38" y1="329.3" x2="288.38" y2="416.5" stroke="#f1f1f1" stroke-width="0.8"/>
<line x1="291.75" y1="329.3" x2="291.75" y2="416.5" stroke="#f1f1f1" stroke-width="0.8"/>
<line x1="295.12" y1="329.3" x2="295.12" y2="416.5" stroke="#f1f1f1" stroke-width="0.8"/>
<line x1="298.50" y1="329.3" x2="298.50" y2="416.5" stroke="#f1f1f1" stroke-width="0.8"/>
<line x1="301.88" y1="329.3" x2="301.88" y2="416.5" stroke="#f1f1f1" stroke-width="0.8"/>
<line x1="305.25" y1="329.3" x2="305.25" y2="416.5" stroke="#f1f1f1" stroke-width="0.8"/>
<line x1="308.62" y1="329.3" x2="308.62" y2="416.5" stroke="#f1f1f1" stroke-width="0.8"/>
<line x1="312.00" y1="329.3" x2="312.00" y2="416.5" stroke="#f1f1f1" stroke-width="0.8"/>
<line x1="315.38" y1="329.3" x2="315.38" y2="416.5" stroke="#f1f1f1" stroke-width="0.8"/>
<line x1="318.75" y1="329.3" x2="318.75" y2="416.5" stroke="#f1f1f1" stroke-width="0.8"/>
<line x1="322.12" y1="329.3" x2="322.12" y2="416.5" stroke="#f1f1f1" stroke-width="0.8"/>
<rect x="204.0" y="329.3" width="121.50" height="87.20" fill="none" stroke="#d0d0d0" stroke-width="0.8"/>
<rect x="204.6" y="344.0" width="3.45" height="28.90" fill="#4f86c6"/>
<rect x="251.8" y="344.0" width="3.25" height="43.30" fill="#4f86c6"/>
<rect x="265.1" y="344.0" width="3.25" height="72.50" fill="#4f86c6"/>
<rect x="298.8" y="329.3" width="6.45" height="43.80" fill="#4f86c6"/>
<rect x="311.8" y="344.0" width="7.25" height="29.10" fill="#4f86c6"/>
<line x1="298.4" y1="329.3" x2="298.4" y2="416.5" stroke="#111" stroke-width="1.1"/>
<text x="206.50" y="421.8" font-size="6.5" font-weight="bold" fill="#333" textLength="5" lengthAdjust="spacingAndGlyphs">1D</text>
<text x="213.25" y="421.8" font-size="6.5" font-weight="bold" fill="#333" textLength="5" lengthAdjust="spacingAndGlyphs">2D</text>
<text x="220.00" y="421.8" font-size="6.5" font-weight="bold" fill="#333" textLength="5" lengthAdjust="spacingAndGlyphs">3D</text>
<text x="226.75" y="421.8" font-size="6.5" font-weight="bold" fill="#333" textLength="5" lengthAdjust="spacingAndGlyphs">4D</text>
<text x="233.50" y="421.8" font-size="6.5" font-weight="bold" fill="#333" textLength="5" lengthAdjust="spacingAndGlyphs">5D</text>
<text x="240.25" y="421.8" font-size="6.5" font-weight="bold" fill="#333" textLength="5" lengthAdjust="spacingAndGlyphs">6D</text>
<text x="247.00" y="421.8" font-size="6.5" font-weight="bold" fill="#333" textLength="5" lengthAdjust="spacingAndGlyphs">7D</text>
<text x="253.75" y="421.8" font-size="6.5" font-weight="bold" fill="#333" textLength="5" lengthAdjust="spacingAndGlyphs">8D</text>
<text x="260.50" y="421.8" font-size="6.5" font-weight="bold" fill="#333" textLength="5" lengthAdjust="spacingAndGlyphs">9D</text>
<text x="267.25" y="421.8" font-size="6.5" font-weight="bold" fill="#333" textLength="5" lengthAdjust="spacingAndGlyphs">10</text>
<text x="274.00" y="421.8" font-size="6.5" font-weight="bold" fill="#333" textLength="5" lengthAdjust="spacingAndGlyphs">11</text>
<text x="280.75" y="421.8" font-size="6.5" font-weight="bold" fill="#333" textLength="5" lengthAdjust="spacingAndGlyphs">12</text>
<text x="287.50" y="421.8" font-size="6.5" font-weight="bold" fill="#333" textLength="5" lengthAdjust="spacingAndGlyphs">13</text>
<text x="294.25" y="421.8" font-size="6.5" font-weight="bold" fill="#333" textLength="5" lengthAdjust="spacingAndGlyphs">14</text>
<text x="301.00" y="421.8" font-size="6.5" font-weight="bold" fill="#333" textLength="5" lengthAdjust="spacingAndGlyphs">15</text>
<text x="307.75" y="421.8" font-size="6.5" font-weight="bold" fill="#333" textLength="5" lengthAdjust="spacingAndGlyphs">16</text>
<text x="314.50" y="421.8" font-size="6.5" font-weight="bold" fill="#333" textLength="5" lengthAdjust="spacingAndGlyphs">17</text>
<text x="321.25" y="421.8" font-size="6.5" font-weight="bold" fill="#333" textLength="5" lengthAdjust="spacingAndGlyphs">18</text>
<text x="328.5" y="335.4" font-size="8" fill="#111">chr.12</text>
<text x="328.5" y="340.9" font-size="6" fill="#111">90.74</text>
<text x="328.5" y="360.0" font-size="8.2" fill="#111">BTG1</text>
<text x="328.5" y="421.5" font-size="6" fill="#111">91.33</text>
<line x1="362.86" y1="328.5" x2="362.86" y2="416.0" stroke="#f1f1f1" stroke-width="0.8"/>
<line x1="366.21" y1="328.5" x2="366.21" y2="416.0" stroke="#f1f1f1" stroke-width="0.8"/>
<line x1="369.57" y1="328.5" x2="369.57" y2="416.0" stroke="#f1f1f1" stroke-width="0.8"/>
<line x1="372.92" y1="328.5" x2="372.92" y2="416.0" stroke="#f1f1f1" stroke-width="0.8"/>
<line x1="376.28" y1="328.5" x2="376.28" y2="416.0" stroke="#f1f1f1" stroke-width="0.8"/>
<line x1="379.63" y1="328.5" x2="379.63" y2="416.0" stroke="#f1f1f1" stroke-width="0.8"/>
<line x1="382.99" y1="328.5" x2="382.99" y2="416.0" stroke="#f1f1f1" stroke-width="0.8"/>
<line x1="386.34" y1="328.5" x2="386.34" y2="416.0" stroke="#f1f1f1" stroke-width="0.8"/>
<line x1="389.70" y1="328.5" x2="389.70" y2="416.0" stroke="#f1f1f1" stroke-width="0.8"/>
<line x1="393.06" y1="328.5" x2="393.06" y2="416.0" stroke="#f1f1f1" stroke-width="0.8"/>
<line x1="396.41" y1="328.5" x2="396.41" y2="416.0" stroke="#f1f1f1" stroke-width="0.8"/>
<line x1="399.77" y1="328.5" x2="399.77" y2="416.0" stroke="#f1f1f1" stroke-width="0.8"/>
<line x1="403.12" y1="328.5" x2="403.12" y2="416.0" stroke="#f1f1f1" stroke-width="0.8"/>
<line x1="406.48" y1="328.5" x2="406.48" y2="416.0" stroke="#f1f1f1" stroke-width="0.8"/>
<line x1="409.83" y1="328.5" x2="409.83" y2="416.0" stroke="#f1f1f1" stroke-width="0.8"/>
<line x1="413.19" y1="328.5" x2="413.19" y2="416.0" stroke="#f1f1f1" stroke-width="0.8"/>
<line x1="416.54" y1="328.5" x2="416.54" y2="416.0" stroke="#f1f1f1" stroke-width="0.8"/>
<line x1="419.90" y1="328.5" x2="419.90" y2="416.0" stroke="#f1f1f1" stroke-width="0.8"/>
<line x1="423.26" y1="328.5" x2="423.26" y2="416.0" stroke="#f1f1f1" stroke-width="0.8"/>
<line x1="426.61" y1="328.5" x2="426.61" y2="416.0" stroke="#f1f1f1" stroke-width="0.8"/>
<line x1="429.97" y1="328.5" x2="429.97" y2="416.0" stroke="#f1f1f1" stroke-width="0.8"/>
<line x1="433.32" y1="328.5" x2="433.32" y2="416.0" stroke="#f1f1f1" stroke-width="0.8"/>
<line x1="436.68" y1="328.5" x2="436.68" y2="416.0" stroke="#f1f1f1" stroke-width="0.8"/>
<line x1="440.03" y1="328.5" x2="440.03" y2="416.0" stroke="#f1f1f1" stroke-width="0.8"/>
<line x1="443.39" y1="328.5" x2="443.39" y2="416.0" stroke="#f1f1f1" stroke-width="0.8"/>
<line x1="446.74" y1="328.5" x2="446.74" y2="416.0" stroke="#f1f1f1" stroke-width="0.8"/>
<line x1="450.10" y1="328.5" x2="450.10" y2="416.0" stroke="#f1f1f1" stroke-width="0.8"/>
<line x1="453.46" y1="328.5" x2="453.46" y2="416.0" stroke="#f1f1f1" stroke-width="0.8"/>
<line x1="456.81" y1="328.5" x2="456.81" y2="416.0" stroke="#f1f1f1" stroke-width="0.8"/>
<line x1="460.17" y1="328.5" x2="460.17" y2="416.0" stroke="#f1f1f1" stroke-width="0.8"/>
<line x1="463.52" y1="328.5" x2="463.52" y2="416.0" stroke="#f1f1f1" stroke-width="0.8"/>
<line x1="466.88" y1="328.5" x2="466.88" y2="416.0" stroke="#f1f1f1" stroke-width="0.8"/>
<line x1="470.23" y1="328.5" x2="470.23" y2="416.0" stroke="#f1f1f1" stroke-width="0.8"/>
<line x1="473.59" y1="328.5" x2="473.59" y2="416.0" stroke="#f1f1f1" stroke-width="0.8"/>
<line x1="476.94" y1="328.5" x2="476.94" y2="416.0" stroke="#f1f1f1" stroke-width="0.8"/>
<rect x="359.5" y="328.5" width="120.80" height="87.50" fill="none" stroke="#d0d0d0" stroke-width="0.8"/>
<rect x="393.4" y="328.5" width="3.65" height="87.50" fill="#4f86c6"/>
<rect x="396.7" y="328.5" width="3.45" height="87.50" fill="#000"/>
<rect x="403.3" y="382.6" width="3.45" height="10.40" fill="#4f86c6"/>
<rect x="420.0" y="388.7" width="3.05" height="4.70" fill="#000"/>
<rect x="422.7" y="389.9" width="4.25" height="1.70" fill="#4f86c6"/>
<rect x="440.1" y="380.0" width="6.75" height="36.00" fill="#4f86c6"/>
<rect x="461.0" y="384.6" width="5.35" height="9.20" fill="#000"/>
<rect x="466.0" y="389.2" width="8.85" height="4.60" fill="#000"/>
<line x1="453.8" y1="328.5" x2="453.8" y2="416.0" stroke="#111" stroke-width="1.1"/>
<text x="362.00" y="421.3" font-size="6.5" font-weight="bold" fill="#333" textLength="5" lengthAdjust="spacingAndGlyphs">1D</text>
<text x="368.71" y="421.3" font-size="6.5" font-weight="bold" fill="#333" textLength="5" lengthAdjust="spacingAndGlyphs">2D</text>
<text x="375.42" y="421.3" font-size="6.5" font-weight="bold" fill="#333" textLength="5" lengthAdjust="spacingAndGlyphs">3D</text>
<text x="382.13" y="421.3" font-size="6.5" font-weight="bold" fill="#333" textLength="5" lengthAdjust="spacingAndGlyphs">4D</text>
<text x="388.84" y="421.3" font-size="6.5" font-weight="bold" fill="#333" textLength="5" lengthAdjust="spacingAndGlyphs">5D</text>
<text x="395.56" y="421.3" font-size="6.5" font-weight="bold" fill="#333" textLength="5" lengthAdjust="spacingAndGlyphs">6D</text>
<text x="402.27" y="421.3" font-size="6.5" font-weight="bold" fill="#333" textLength="5" lengthAdjust="spacingAndGlyphs">7D</text>
<text x="408.98" y="421.3" font-size="6.5" font-weight="bold" fill="#333" textLength="5" lengthAdjust="spacingAndGlyphs">8D</text>
<text x="415.69" y="421.3" font-size="6.5" font-weight="bold" fill="#333" textLength="5" lengthAdjust="spacingAndGlyphs">9D</text>
<text x="422.40" y="421.3" font-size="6.5" font-weight="bold" fill="#333" textLength="5" lengthAdjust="spacingAndGlyphs">10</text>
<text x="429.11" y="421.3" font-size="6.5" font-weight="bold" fill="#333" textLength="5" lengthAdjust="spacingAndGlyphs">11</text>
<text x="435.82" y="421.3" font-size="6.5" font-weight="bold" fill="#333" textLength="5" lengthAdjust="spacingAndGlyphs">12</text>
<text x="442.53" y="421.3" font-size="6.5" font-weight="bold" fill="#333" textLength="5" lengthAdjust="spacingAndGlyphs">13</text>
<text x="449.24" y="421.3" font-size="6.5" font-weight="bold" fill="#333" textLength="5" lengthAdjust="spacingAndGlyphs">14</text>
<text x="455.96" y="421.3" font-size="6.5" font-weight="bold" fill="#333" textLength="5" lengthAdjust="spacingAndGlyphs">15</text>
<text x="462.67" y="421.3" font-size="6.5" font-weight="bold" fill="#333" textLength="5" lengthAdjust="spacingAndGlyphs">16</text>
<text x="469.38" y="421.3" font-size="6.5" font-weight="bold" fill="#333" textLength="5" lengthAdjust="spacingAndGlyphs">17</text>
<text x="476.09" y="421.3" font-size="6.5" font-weight="bold" fill="#333" textLength="5" lengthAdjust="spacingAndGlyphs">18</text>
<text x="486.8" y="335.0" font-size="8" fill="#111">chr.9</text>
<text x="486.8" y="340.4" font-size="6" fill="#111">20.62</text>
<text x="487.0" y="389.0" font-size="8.2" fill="#111">MTAP</text>
<text x="487.0" y="397.0" font-size="8.2" fill="#111">CDKN2A</text>
<text x="487.0" y="405.4" font-size="8.2" fill="#111">CDKN2B</text>
<text x="486.8" y="421.0" font-size="6" fill="#111">22.49</text>
<line x1="42.77" y1="442.3" x2="42.77" y2="529.2" stroke="#f1f1f1" stroke-width="0.8"/>
<line x1="46.14" y1="442.3" x2="46.14" y2="529.2" stroke="#f1f1f1" stroke-width="0.8"/>
<line x1="49.52" y1="442.3" x2="49.52" y2="529.2" stroke="#f1f1f1" stroke-width="0.8"/>
<line x1="52.89" y1="442.3" x2="52.89" y2="529.2" stroke="#f1f1f1" stroke-width="0.8"/>
<line x1="56.26" y1="442.3" x2="56.26" y2="529.2" stroke="#f1f1f1" stroke-width="0.8"/>
<line x1="59.63" y1="442.3" x2="59.63" y2="529.2" stroke="#f1f1f1" stroke-width="0.8"/>
<line x1="63.01" y1="442.3" x2="63.01" y2="529.2" stroke="#f1f1f1" stroke-width="0.8"/>
<line x1="66.38" y1="442.3" x2="66.38" y2="529.2" stroke="#f1f1f1" stroke-width="0.8"/>
<line x1="69.75" y1="442.3" x2="69.75" y2="529.2" stroke="#f1f1f1" stroke-width="0.8"/>
<line x1="73.12" y1="442.3" x2="73.12" y2="529.2" stroke="#f1f1f1" stroke-width="0.8"/>
<line x1="76.49" y1="442.3" x2="76.49" y2="529.2" stroke="#f1f1f1" stroke-width="0.8"/>
<line x1="79.87" y1="442.3" x2="79.87" y2="529.2" stroke="#f1f1f1" stroke-width="0.8"/>
<line x1="83.24" y1="442.3" x2="83.24" y2="529.2" stroke="#f1f1f1" stroke-width="0.8"/>
<line x1="86.61" y1="442.3" x2="86.61" y2="529.2" stroke="#f1f1f1" stroke-width="0.8"/>
<line x1="89.98" y1="442.3" x2="89.98" y2="529.2" stroke="#f1f1f1" stroke-width="0.8"/>
<line x1="93.36" y1="442.3" x2="93.36" y2="529.2" stroke="#f1f1f1" stroke-width="0.8"/>
<line x1="96.73" y1="442.3" x2="96.73" y2="529.2" stroke="#f1f1f1" stroke-width="0.8"/>
<line x1="100.10" y1="442.3" x2="100.10" y2="529.2" stroke="#f1f1f1" stroke-width="0.8"/>
<line x1="103.47" y1="442.3" x2="103.47" y2="529.2" stroke="#f1f1f1" stroke-width="0.8"/>
<line x1="106.84" y1="442.3" x2="106.84" y2="529.2" stroke="#f1f1f1" stroke-width="0.8"/>
<line x1="110.22" y1="442.3" x2="110.22" y2="529.2" stroke="#f1f1f1" stroke-width="0.8"/>
<line x1="113.59" y1="442.3" x2="113.59" y2="529.2" stroke="#f1f1f1" stroke-width="0.8"/>
<line x1="116.96" y1="442.3" x2="116.96" y2="529.2" stroke="#f1f1f1" stroke-width="0.8"/>
<line x1="120.33" y1="442.3" x2="120.33" y2="529.2" stroke="#f1f1f1" stroke-width="0.8"/>
<line x1="123.71" y1="442.3" x2="123.71" y2="529.2" stroke="#f1f1f1" stroke-width="0.8"/>
<line x1="127.08" y1="442.3" x2="127.08" y2="529.2" stroke="#f1f1f1" stroke-width="0.8"/>
<line x1="130.45" y1="442.3" x2="130.45" y2="529.2" stroke="#f1f1f1" stroke-width="0.8"/>
<line x1="133.82" y1="442.3" x2="133.82" y2="529.2" stroke="#f1f1f1" stroke-width="0.8"/>
<line x1="137.19" y1="442.3" x2="137.19" y2="529.2" stroke="#f1f1f1" stroke-width="0.8"/>
<line x1="140.57" y1="442.3" x2="140.57" y2="529.2" stroke="#f1f1f1" stroke-width="0.8"/>
<line x1="143.94" y1="442.3" x2="143.94" y2="529.2" stroke="#f1f1f1" stroke-width="0.8"/>
<line x1="147.31" y1="442.3" x2="147.31" y2="529.2" stroke="#f1f1f1" stroke-width="0.8"/>
<line x1="150.68" y1="442.3" x2="150.68" y2="529.2" stroke="#f1f1f1" stroke-width="0.8"/>
<line x1="154.06" y1="442.3" x2="154.06" y2="529.2" stroke="#f1f1f1" stroke-width="0.8"/>
<line x1="157.43" y1="442.3" x2="157.43" y2="529.2" stroke="#f1f1f1" stroke-width="0.8"/>
<rect x="39.4" y="442.3" width="121.40" height="86.90" fill="none" stroke="#d0d0d0" stroke-width="0.8"/>
<rect x="70.2" y="442.3" width="3.65" height="86.90" fill="#4f86c6"/>
<rect x="80.2" y="463.8" width="3.25" height="8.10" fill="#4f86c6"/>
<rect x="100.4" y="463.8" width="3.25" height="8.10" fill="#4f86c6"/>
<rect x="103.3" y="466.7" width="4.15" height="5.20" fill="#4f86c6"/>
<rect x="120.6" y="463.8" width="7.05" height="8.10" fill="#4f86c6"/>
<line x1="134.3" y1="442.3" x2="134.3" y2="529.2" stroke="#111" stroke-width="1.1"/>
<text x="41.90" y="534.5" font-size="6.5" font-weight="bold" fill="#333" textLength="5" lengthAdjust="spacingAndGlyphs">1D</text>
<text x="48.64" y="534.5" font-size="6.5" font-weight="bold" fill="#333" textLength="5" lengthAdjust="spacingAndGlyphs">2D</text>
<text x="55.39" y="534.5" font-size="6.5" font-weight="bold" fill="#333" textLength="5" lengthAdjust="spacingAndGlyphs">3D</text>
<text x="62.13" y="534.5" font-size="6.5" font-weight="bold" fill="#333" textLength="5" lengthAdjust="spacingAndGlyphs">4D</text>
<text x="68.88" y="534.5" font-size="6.5" font-weight="bold" fill="#333" textLength="5" lengthAdjust="spacingAndGlyphs">5D</text>
<text x="75.62" y="534.5" font-size="6.5" font-weight="bold" fill="#333" textLength="5" lengthAdjust="spacingAndGlyphs">6D</text>
<text x="82.37" y="534.5" font-size="6.5" font-weight="bold" fill="#333" textLength="5" lengthAdjust="spacingAndGlyphs">7D</text>
<text x="89.11" y="534.5" font-size="6.5" font-weight="bold" fill="#333" textLength="5" lengthAdjust="spacingAndGlyphs">8D</text>
<text x="95.86" y="534.5" font-size="6.5" font-weight="bold" fill="#333" textLength="5" lengthAdjust="spacingAndGlyphs">9D</text>
<text x="102.60" y="534.5" font-size="6.5" font-weight="bold" fill="#333" textLength="5" lengthAdjust="spacingAndGlyphs">10</text>
<text x="109.34" y="534.5" font-size="6.5" font-weight="bold" fill="#333" textLength="5" lengthAdjust="spacingAndGlyphs">11</text>
<text x="116.09" y="534.5" font-size="6.5" font-weight="bold" fill="#333" textLength="5" lengthAdjust="spacingAndGlyphs">12</text>
<text x="122.83" y="534.5" font-size="6.5" font-weight="bold" fill="#333" textLength="5" lengthAdjust="spacingAndGlyphs">13</text>
<text x="129.58" y="534.5" font-size="6.5" font-weight="bold" fill="#333" textLength="5" lengthAdjust="spacingAndGlyphs">14</text>
<text x="136.32" y="534.5" font-size="6.5" font-weight="bold" fill="#333" textLength="5" lengthAdjust="spacingAndGlyphs">15</text>
<text x="143.07" y="534.5" font-size="6.5" font-weight="bold" fill="#333" textLength="5" lengthAdjust="spacingAndGlyphs">16</text>
<text x="149.81" y="534.5" font-size="6.5" font-weight="bold" fill="#333" textLength="5" lengthAdjust="spacingAndGlyphs">17</text>
<text x="156.56" y="534.5" font-size="6.5" font-weight="bold" fill="#333" textLength="5" lengthAdjust="spacingAndGlyphs">18</text>
<text x="165.7" y="449.2" font-size="8" fill="#111">chr.9</text>
<text x="165.7" y="454.6" font-size="6" fill="#111">36.66</text>
<text x="165.7" y="473.7" font-size="8.2" fill="#111">PAX5</text>
<text x="165.7" y="534.8" font-size="6" fill="#111">37.78</text>
<line x1="208.85" y1="441.9" x2="208.85" y2="530.0" stroke="#f1f1f1" stroke-width="0.8"/>
<line x1="212.21" y1="441.9" x2="212.21" y2="530.0" stroke="#f1f1f1" stroke-width="0.8"/>
<line x1="215.56" y1="441.9" x2="215.56" y2="530.0" stroke="#f1f1f1" stroke-width="0.8"/>
<line x1="218.91" y1="441.9" x2="218.91" y2="530.0" stroke="#f1f1f1" stroke-width="0.8"/>
<line x1="222.26" y1="441.9" x2="222.26" y2="530.0" stroke="#f1f1f1" stroke-width="0.8"/>
<line x1="225.62" y1="441.9" x2="225.62" y2="530.0" stroke="#f1f1f1" stroke-width="0.8"/>
<line x1="228.97" y1="441.9" x2="228.97" y2="530.0" stroke="#f1f1f1" stroke-width="0.8"/>
<line x1="232.32" y1="441.9" x2="232.32" y2="530.0" stroke="#f1f1f1" stroke-width="0.8"/>
<line x1="235.68" y1="441.9" x2="235.68" y2="530.0" stroke="#f1f1f1" stroke-width="0.8"/>
<line x1="239.03" y1="441.9" x2="239.03" y2="530.0" stroke="#f1f1f1" stroke-width="0.8"/>
<line x1="242.38" y1="441.9" x2="242.38" y2="530.0" stroke="#f1f1f1" stroke-width="0.8"/>
<line x1="245.73" y1="441.9" x2="245.73" y2="530.0" stroke="#f1f1f1" stroke-width="0.8"/>
<line x1="249.09" y1="441.9" x2="249.09" y2="530.0" stroke="#f1f1f1" stroke-width="0.8"/>
<line x1="252.44" y1="441.9" x2="252.44" y2="530.0" stroke="#f1f1f1" stroke-width="0.8"/>
<line x1="255.79" y1="441.9" x2="255.79" y2="530.0" stroke="#f1f1f1" stroke-width="0.8"/>
<line x1="259.14" y1="441.9" x2="259.14" y2="530.0" stroke="#f1f1f1" stroke-width="0.8"/>
<line x1="262.50" y1="441.9" x2="262.50" y2="530.0" stroke="#f1f1f1" stroke-width="0.8"/>
<line x1="265.85" y1="441.9" x2="265.85" y2="530.0" stroke="#f1f1f1" stroke-width="0.8"/>
<line x1="269.20" y1="441.9" x2="269.20" y2="530.0" stroke="#f1f1f1" stroke-width="0.8"/>
<line x1="272.56" y1="441.9" x2="272.56" y2="530.0" stroke="#f1f1f1" stroke-width="0.8"/>
<line x1="275.91" y1="441.9" x2="275.91" y2="530.0" stroke="#f1f1f1" stroke-width="0.8"/>
<line x1="279.26" y1="441.9" x2="279.26" y2="530.0" stroke="#f1f1f1" stroke-width="0.8"/>
<line x1="282.61" y1="441.9" x2="282.61" y2="530.0" stroke="#f1f1f1" stroke-width="0.8"/>
<line x1="285.97" y1="441.9" x2="285.97" y2="530.0" stroke="#f1f1f1" stroke-width="0.8"/>
<line x1="289.32" y1="441.9" x2="289.32" y2="530.0" stroke="#f1f1f1" stroke-width="0.8"/>
<line x1="292.67" y1="441.9" x2="292.67" y2="530.0" stroke="#f1f1f1" stroke-width="0.8"/>
<line x1="296.02" y1="441.9" x2="296.02" y2="530.0" stroke="#f1f1f1" stroke-width="0.8"/>
<line x1="299.38" y1="441.9" x2="299.38" y2="530.0" stroke="#f1f1f1" stroke-width="0.8"/>
<line x1="302.73" y1="441.9" x2="302.73" y2="530.0" stroke="#f1f1f1" stroke-width="0.8"/>
<line x1="306.08" y1="441.9" x2="306.08" y2="530.0" stroke="#f1f1f1" stroke-width="0.8"/>
<line x1="309.44" y1="441.9" x2="309.44" y2="530.0" stroke="#f1f1f1" stroke-width="0.8"/>
<line x1="312.79" y1="441.9" x2="312.79" y2="530.0" stroke="#f1f1f1" stroke-width="0.8"/>
<line x1="316.14" y1="441.9" x2="316.14" y2="530.0" stroke="#f1f1f1" stroke-width="0.8"/>
<line x1="319.49" y1="441.9" x2="319.49" y2="530.0" stroke="#f1f1f1" stroke-width="0.8"/>
<line x1="322.85" y1="441.9" x2="322.85" y2="530.0" stroke="#f1f1f1" stroke-width="0.8"/>
<rect x="205.5" y="441.9" width="120.70" height="88.10" fill="none" stroke="#d0d0d0" stroke-width="0.8"/>
<rect x="249.3" y="441.9" width="3.05" height="88.10" fill="#4f86c6"/>
<rect x="255.7" y="518.3" width="3.55" height="11.70" fill="#4f86c6"/>
<rect x="306.2" y="441.9" width="6.45" height="81.70" fill="#4f86c6"/>
<line x1="299.1" y1="441.9" x2="299.1" y2="530.0" stroke="#111" stroke-width="1.1"/>
<text x="208.00" y="535.3" font-size="6.5" font-weight="bold" fill="#333" textLength="5" lengthAdjust="spacingAndGlyphs">1D</text>
<text x="214.71" y="535.3" font-size="6.5" font-weight="bold" fill="#333" textLength="5" lengthAdjust="spacingAndGlyphs">2D</text>
<text x="221.41" y="535.3" font-size="6.5" font-weight="bold" fill="#333" textLength="5" lengthAdjust="spacingAndGlyphs">3D</text>
<text x="228.12" y="535.3" font-size="6.5" font-weight="bold" fill="#333" textLength="5" lengthAdjust="spacingAndGlyphs">4D</text>
<text x="234.82" y="535.3" font-size="6.5" font-weight="bold" fill="#333" textLength="5" lengthAdjust="spacingAndGlyphs">5D</text>
<text x="241.53" y="535.3" font-size="6.5" font-weight="bold" fill="#333" textLength="5" lengthAdjust="spacingAndGlyphs">6D</text>
<text x="248.23" y="535.3" font-size="6.5" font-weight="bold" fill="#333" textLength="5" lengthAdjust="spacingAndGlyphs">7D</text>
<text x="254.94" y="535.3" font-size="6.5" font-weight="bold" fill="#333" textLength="5" lengthAdjust="spacingAndGlyphs">8D</text>
<text x="261.64" y="535.3" font-size="6.5" font-weight="bold" fill="#333" textLength="5" lengthAdjust="spacingAndGlyphs">9D</text>
<text x="268.35" y="535.3" font-size="6.5" font-weight="bold" fill="#333" textLength="5" lengthAdjust="spacingAndGlyphs">10</text>
<text x="275.06" y="535.3" font-size="6.5" font-weight="bold" fill="#333" textLength="5" lengthAdjust="spacingAndGlyphs">11</text>
<text x="281.76" y="535.3" font-size="6.5" font-weight="bold" fill="#333" textLength="5" lengthAdjust="spacingAndGlyphs">12</text>
<text x="288.47" y="535.3" font-size="6.5" font-weight="bold" fill="#333" textLength="5" lengthAdjust="spacingAndGlyphs">13</text>
<text x="295.17" y="535.3" font-size="6.5" font-weight="bold" fill="#333" textLength="5" lengthAdjust="spacingAndGlyphs">14</text>
<text x="301.88" y="535.3" font-size="6.5" font-weight="bold" fill="#333" textLength="5" lengthAdjust="spacingAndGlyphs">15</text>
<text x="308.58" y="535.3" font-size="6.5" font-weight="bold" fill="#333" textLength="5" lengthAdjust="spacingAndGlyphs">16</text>
<text x="315.29" y="535.3" font-size="6.5" font-weight="bold" fill="#333" textLength="5" lengthAdjust="spacingAndGlyphs">17</text>
<text x="321.99" y="535.3" font-size="6.5" font-weight="bold" fill="#333" textLength="5" lengthAdjust="spacingAndGlyphs">18</text>
<text x="328.6" y="449.3" font-size="8" fill="#111">chr.5</text>
<text x="328.6" y="454.8" font-size="6" fill="#111">157.80</text>
<text x="328.6" y="528.7" font-size="8.2" fill="#111">EBF1</text>
<text x="328.6" y="534.8" font-size="6" fill="#111">158.42</text>
<line x1="363.16" y1="442.2" x2="363.16" y2="528.8" stroke="#f1f1f1" stroke-width="0.8"/>
<line x1="366.52" y1="442.2" x2="366.52" y2="528.8" stroke="#f1f1f1" stroke-width="0.8"/>
<line x1="369.88" y1="442.2" x2="369.88" y2="528.8" stroke="#f1f1f1" stroke-width="0.8"/>
<line x1="373.24" y1="442.2" x2="373.24" y2="528.8" stroke="#f1f1f1" stroke-width="0.8"/>
<line x1="376.61" y1="442.2" x2="376.61" y2="528.8" stroke="#f1f1f1" stroke-width="0.8"/>
<line x1="379.97" y1="442.2" x2="379.97" y2="528.8" stroke="#f1f1f1" stroke-width="0.8"/>
<line x1="383.33" y1="442.2" x2="383.33" y2="528.8" stroke="#f1f1f1" stroke-width="0.8"/>
<line x1="386.69" y1="442.2" x2="386.69" y2="528.8" stroke="#f1f1f1" stroke-width="0.8"/>
<line x1="390.05" y1="442.2" x2="390.05" y2="528.8" stroke="#f1f1f1" stroke-width="0.8"/>
<line x1="393.41" y1="442.2" x2="393.41" y2="528.8" stroke="#f1f1f1" stroke-width="0.8"/>
<line x1="396.77" y1="442.2" x2="396.77" y2="528.8" stroke="#f1f1f1" stroke-width="0.8"/>
<line x1="400.13" y1="442.2" x2="400.13" y2="528.8" stroke="#f1f1f1" stroke-width="0.8"/>
<line x1="403.49" y1="442.2" x2="403.49" y2="528.8" stroke="#f1f1f1" stroke-width="0.8"/>
<line x1="406.86" y1="442.2" x2="406.86" y2="528.8" stroke="#f1f1f1" stroke-width="0.8"/>
<line x1="410.22" y1="442.2" x2="410.22" y2="528.8" stroke="#f1f1f1" stroke-width="0.8"/>
<line x1="413.58" y1="442.2" x2="413.58" y2="528.8" stroke="#f1f1f1" stroke-width="0.8"/>
<line x1="416.94" y1="442.2" x2="416.94" y2="528.8" stroke="#f1f1f1" stroke-width="0.8"/>
<line x1="420.30" y1="442.2" x2="420.30" y2="528.8" stroke="#f1f1f1" stroke-width="0.8"/>
<line x1="423.66" y1="442.2" x2="423.66" y2="528.8" stroke="#f1f1f1" stroke-width="0.8"/>
<line x1="427.02" y1="442.2" x2="427.02" y2="528.8" stroke="#f1f1f1" stroke-width="0.8"/>
<line x1="430.38" y1="442.2" x2="430.38" y2="528.8" stroke="#f1f1f1" stroke-width="0.8"/>
<line x1="433.74" y1="442.2" x2="433.74" y2="528.8" stroke="#f1f1f1" stroke-width="0.8"/>
<line x1="437.11" y1="442.2" x2="437.11" y2="528.8" stroke="#f1f1f1" stroke-width="0.8"/>
<line x1="440.47" y1="442.2" x2="440.47" y2="528.8" stroke="#f1f1f1" stroke-width="0.8"/>
<line x1="443.83" y1="442.2" x2="443.83" y2="528.8" stroke="#f1f1f1" stroke-width="0.8"/>
<line x1="447.19" y1="442.2" x2="447.19" y2="528.8" stroke="#f1f1f1" stroke-width="0.8"/>
<line x1="450.55" y1="442.2" x2="450.55" y2="528.8" stroke="#f1f1f1" stroke-width="0.8"/>
<line x1="453.91" y1="442.2" x2="453.91" y2="528.8" stroke="#f1f1f1" stroke-width="0.8"/>
<line x1="457.27" y1="442.2" x2="457.27" y2="528.8" stroke="#f1f1f1" stroke-width="0.8"/>
<line x1="460.63" y1="442.2" x2="460.63" y2="528.8" stroke="#f1f1f1" stroke-width="0.8"/>
<line x1="463.99" y1="442.2" x2="463.99" y2="528.8" stroke="#f1f1f1" stroke-width="0.8"/>
<line x1="467.36" y1="442.2" x2="467.36" y2="528.8" stroke="#f1f1f1" stroke-width="0.8"/>
<line x1="470.72" y1="442.2" x2="470.72" y2="528.8" stroke="#f1f1f1" stroke-width="0.8"/>
<line x1="474.08" y1="442.2" x2="474.08" y2="528.8" stroke="#f1f1f1" stroke-width="0.8"/>
<line x1="477.44" y1="442.2" x2="477.44" y2="528.8" stroke="#f1f1f1" stroke-width="0.8"/>
<rect x="359.8" y="442.2" width="121.00" height="86.60" fill="none" stroke="#d0d0d0" stroke-width="0.8"/>
<rect x="409.8" y="442.2" width="3.65" height="86.60" fill="#4f86c6"/>
<line x1="454.0" y1="442.2" x2="454.0" y2="528.8" stroke="#111" stroke-width="1.1"/>
<text x="362.30" y="534.1" font-size="6.5" font-weight="bold" fill="#333" textLength="5" lengthAdjust="spacingAndGlyphs">1D</text>
<text x="369.02" y="534.1" font-size="6.5" font-weight="bold" fill="#333" textLength="5" lengthAdjust="spacingAndGlyphs">2D</text>
<text x="375.74" y="534.1" font-size="6.5" font-weight="bold" fill="#333" textLength="5" lengthAdjust="spacingAndGlyphs">3D</text>
<text x="382.47" y="534.1" font-size="6.5" font-weight="bold" fill="#333" textLength="5" lengthAdjust="spacingAndGlyphs">4D</text>
<text x="389.19" y="534.1" font-size="6.5" font-weight="bold" fill="#333" textLength="5" lengthAdjust="spacingAndGlyphs">5D</text>
<text x="395.91" y="534.1" font-size="6.5" font-weight="bold" fill="#333" textLength="5" lengthAdjust="spacingAndGlyphs">6D</text>
<text x="402.63" y="534.1" font-size="6.5" font-weight="bold" fill="#333" textLength="5" lengthAdjust="spacingAndGlyphs">7D</text>
<text x="409.36" y="534.1" font-size="6.5" font-weight="bold" fill="#333" textLength="5" lengthAdjust="spacingAndGlyphs">8D</text>
<text x="416.08" y="534.1" font-size="6.5" font-weight="bold" fill="#333" textLength="5" lengthAdjust="spacingAndGlyphs">9D</text>
<text x="422.80" y="534.1" font-size="6.5" font-weight="bold" fill="#333" textLength="5" lengthAdjust="spacingAndGlyphs">10</text>
<text x="429.52" y="534.1" font-size="6.5" font-weight="bold" fill="#333" textLength="5" lengthAdjust="spacingAndGlyphs">11</text>
<text x="436.24" y="534.1" font-size="6.5" font-weight="bold" fill="#333" textLength="5" lengthAdjust="spacingAndGlyphs">12</text>
<text x="442.97" y="534.1" font-size="6.5" font-weight="bold" fill="#333" textLength="5" lengthAdjust="spacingAndGlyphs">13</text>
<text x="449.69" y="534.1" font-size="6.5" font-weight="bold" fill="#333" textLength="5" lengthAdjust="spacingAndGlyphs">14</text>
<text x="456.41" y="534.1" font-size="6.5" font-weight="bold" fill="#333" textLength="5" lengthAdjust="spacingAndGlyphs">15</text>
<text x="463.13" y="534.1" font-size="6.5" font-weight="bold" fill="#333" textLength="5" lengthAdjust="spacingAndGlyphs">16</text>
<text x="469.86" y="534.1" font-size="6.5" font-weight="bold" fill="#333" textLength="5" lengthAdjust="spacingAndGlyphs">17</text>
<text x="476.58" y="534.1" font-size="6.5" font-weight="bold" fill="#333" textLength="5" lengthAdjust="spacingAndGlyphs">18</text>
<text x="485.7" y="449.3" font-size="8" fill="#111">chr.7</text>
<text x="485.7" y="455.6" font-size="6" fill="#111">50.23</text>
<text x="485.7" y="491.8" font-size="8.2" fill="#111">IKZF1</text>
<text x="485.7" y="534.1" font-size="6" fill="#111">50.32</text>
<line x1="43.06" y1="558.6" x2="43.06" y2="646.0" stroke="#f1f1f1" stroke-width="0.8"/>
<line x1="46.42" y1="558.6" x2="46.42" y2="646.0" stroke="#f1f1f1" stroke-width="0.8"/>
<line x1="49.78" y1="558.6" x2="49.78" y2="646.0" stroke="#f1f1f1" stroke-width="0.8"/>
<line x1="53.14" y1="558.6" x2="53.14" y2="646.0" stroke="#f1f1f1" stroke-width="0.8"/>
<line x1="56.51" y1="558.6" x2="56.51" y2="646.0" stroke="#f1f1f1" stroke-width="0.8"/>
<line x1="59.87" y1="558.6" x2="59.87" y2="646.0" stroke="#f1f1f1" stroke-width="0.8"/>
<line x1="63.23" y1="558.6" x2="63.23" y2="646.0" stroke="#f1f1f1" stroke-width="0.8"/>
<line x1="66.59" y1="558.6" x2="66.59" y2="646.0" stroke="#f1f1f1" stroke-width="0.8"/>
<line x1="69.95" y1="558.6" x2="69.95" y2="646.0" stroke="#f1f1f1" stroke-width="0.8"/>
<line x1="73.31" y1="558.6" x2="73.31" y2="646.0" stroke="#f1f1f1" stroke-width="0.8"/>
<line x1="76.67" y1="558.6" x2="76.67" y2="646.0" stroke="#f1f1f1" stroke-width="0.8"/>
<line x1="80.03" y1="558.6" x2="80.03" y2="646.0" stroke="#f1f1f1" stroke-width="0.8"/>
<line x1="83.39" y1="558.6" x2="83.39" y2="646.0" stroke="#f1f1f1" stroke-width="0.8"/>
<line x1="86.76" y1="558.6" x2="86.76" y2="646.0" stroke="#f1f1f1" stroke-width="0.8"/>
<line x1="90.12" y1="558.6" x2="90.12" y2="646.0" stroke="#f1f1f1" stroke-width="0.8"/>
<line x1="93.48" y1="558.6" x2="93.48" y2="646.0" stroke="#f1f1f1" stroke-width="0.8"/>
<line x1="96.84" y1="558.6" x2="96.84" y2="646.0" stroke="#f1f1f1" stroke-width="0.8"/>
<line x1="100.20" y1="558.6" x2="100.20" y2="646.0" stroke="#f1f1f1" stroke-width="0.8"/>
<line x1="103.56" y1="558.6" x2="103.56" y2="646.0" stroke="#f1f1f1" stroke-width="0.8"/>
<line x1="106.92" y1="558.6" x2="106.92" y2="646.0" stroke="#f1f1f1" stroke-width="0.8"/>
<line x1="110.28" y1="558.6" x2="110.28" y2="646.0" stroke="#f1f1f1" stroke-width="0.8"/>
<line x1="113.64" y1="558.6" x2="113.64" y2="646.0" stroke="#f1f1f1" stroke-width="0.8"/>
<line x1="117.01" y1="558.6" x2="117.01" y2="646.0" stroke="#f1f1f1" stroke-width="0.8"/>
<line x1="120.37" y1="558.6" x2="120.37" y2="646.0" stroke="#f1f1f1" stroke-width="0.8"/>
<line x1="123.73" y1="558.6" x2="123.73" y2="646.0" stroke="#f1f1f1" stroke-width="0.8"/>
<line x1="127.09" y1="558.6" x2="127.09" y2="646.0" stroke="#f1f1f1" stroke-width="0.8"/>
<line x1="130.45" y1="558.6" x2="130.45" y2="646.0" stroke="#f1f1f1" stroke-width="0.8"/>
<line x1="133.81" y1="558.6" x2="133.81" y2="646.0" stroke="#f1f1f1" stroke-width="0.8"/>
<line x1="137.17" y1="558.6" x2="137.17" y2="646.0" stroke="#f1f1f1" stroke-width="0.8"/>
<line x1="140.53" y1="558.6" x2="140.53" y2="646.0" stroke="#f1f1f1" stroke-width="0.8"/>
<line x1="143.89" y1="558.6" x2="143.89" y2="646.0" stroke="#f1f1f1" stroke-width="0.8"/>
<line x1="147.26" y1="558.6" x2="147.26" y2="646.0" stroke="#f1f1f1" stroke-width="0.8"/>
<line x1="150.62" y1="558.6" x2="150.62" y2="646.0" stroke="#f1f1f1" stroke-width="0.8"/>
<line x1="153.98" y1="558.6" x2="153.98" y2="646.0" stroke="#f1f1f1" stroke-width="0.8"/>
<line x1="157.34" y1="558.6" x2="157.34" y2="646.0" stroke="#f1f1f1" stroke-width="0.8"/>
<rect x="39.7" y="558.6" width="121.00" height="87.40" fill="none" stroke="#d0d0d0" stroke-width="0.8"/>
<rect x="83.8" y="558.6" width="3.45" height="87.40" fill="#4f86c6"/>
<rect x="110.3" y="607.1" width="3.45" height="38.90" fill="#4f86c6"/>
<rect x="117.0" y="562.5" width="4.05" height="55.50" fill="#000"/>
<rect x="137.5" y="607.1" width="3.55" height="4.40" fill="#4f86c6"/>
<rect x="147.1" y="582.0" width="7.15" height="44.00" fill="#4f86c6"/>
<rect x="151.0" y="626.0" width="3.25" height="1.90" fill="#4f86c6"/>
<line x1="134.2" y1="558.6" x2="134.2" y2="646.0" stroke="#111" stroke-width="1.1"/>
<text x="42.20" y="651.3" font-size="6.5" font-weight="bold" fill="#333" textLength="5" lengthAdjust="spacingAndGlyphs">1D</text>
<text x="48.92" y="651.3" font-size="6.5" font-weight="bold" fill="#333" textLength="5" lengthAdjust="spacingAndGlyphs">2D</text>
<text x="55.64" y="651.3" font-size="6.5" font-weight="bold" fill="#333" textLength="5" lengthAdjust="spacingAndGlyphs">3D</text>
<text x="62.37" y="651.3" font-size="6.5" font-weight="bold" fill="#333" textLength="5" lengthAdjust="spacingAndGlyphs">4D</text>
<text x="69.09" y="651.3" font-size="6.5" font-weight="bold" fill="#333" textLength="5" lengthAdjust="spacingAndGlyphs">5D</text>
<text x="75.81" y="651.3" font-size="6.5" font-weight="bold" fill="#333" textLength="5" lengthAdjust="spacingAndGlyphs">6D</text>
<text x="82.53" y="651.3" font-size="6.5" font-weight="bold" fill="#333" textLength="5" lengthAdjust="spacingAndGlyphs">7D</text>
<text x="89.26" y="651.3" font-size="6.5" font-weight="bold" fill="#333" textLength="5" lengthAdjust="spacingAndGlyphs">8D</text>
<text x="95.98" y="651.3" font-size="6.5" font-weight="bold" fill="#333" textLength="5" lengthAdjust="spacingAndGlyphs">9D</text>
<text x="102.70" y="651.3" font-size="6.5" font-weight="bold" fill="#333" textLength="5" lengthAdjust="spacingAndGlyphs">10</text>
<text x="109.42" y="651.3" font-size="6.5" font-weight="bold" fill="#333" textLength="5" lengthAdjust="spacingAndGlyphs">11</text>
<text x="116.14" y="651.3" font-size="6.5" font-weight="bold" fill="#333" textLength="5" lengthAdjust="spacingAndGlyphs">12</text>
<text x="122.87" y="651.3" font-size="6.5" font-weight="bold" fill="#333" textLength="5" lengthAdjust="spacingAndGlyphs">13</text>
<text x="129.59" y="651.3" font-size="6.5" font-weight="bold" fill="#333" textLength="5" lengthAdjust="spacingAndGlyphs">14</text>
<text x="136.31" y="651.3" font-size="6.5" font-weight="bold" fill="#333" textLength="5" lengthAdjust="spacingAndGlyphs">15</text>
<text x="143.03" y="651.3" font-size="6.5" font-weight="bold" fill="#333" textLength="5" lengthAdjust="spacingAndGlyphs">16</text>
<text x="149.76" y="651.3" font-size="6.5" font-weight="bold" fill="#333" textLength="5" lengthAdjust="spacingAndGlyphs">17</text>
<text x="156.48" y="651.3" font-size="6.5" font-weight="bold" fill="#333" textLength="5" lengthAdjust="spacingAndGlyphs">18</text>
<text x="165.8" y="565.4" font-size="8" fill="#111">chr.5</text>
<text x="165.8" y="571.9" font-size="6" fill="#111">140.07</text>
<text x="165.8" y="621.7" font-size="8.2" fill="#111">NR3C1</text>
<text x="165.8" y="650.1" font-size="6" fill="#111">144.81</text>
<line x1="207.98" y1="558.6" x2="207.98" y2="645.4" stroke="#f1f1f1" stroke-width="0.8"/>
<line x1="211.36" y1="558.6" x2="211.36" y2="645.4" stroke="#f1f1f1" stroke-width="0.8"/>
<line x1="214.73" y1="558.6" x2="214.73" y2="645.4" stroke="#f1f1f1" stroke-width="0.8"/>
<line x1="218.11" y1="558.6" x2="218.11" y2="645.4" stroke="#f1f1f1" stroke-width="0.8"/>
<line x1="221.49" y1="558.6" x2="221.49" y2="645.4" stroke="#f1f1f1" stroke-width="0.8"/>
<line x1="224.87" y1="558.6" x2="224.87" y2="645.4" stroke="#f1f1f1" stroke-width="0.8"/>
<line x1="228.24" y1="558.6" x2="228.24" y2="645.4" stroke="#f1f1f1" stroke-width="0.8"/>
<line x1="231.62" y1="558.6" x2="231.62" y2="645.4" stroke="#f1f1f1" stroke-width="0.8"/>
<line x1="235.00" y1="558.6" x2="235.00" y2="645.4" stroke="#f1f1f1" stroke-width="0.8"/>
<line x1="238.38" y1="558.6" x2="238.38" y2="645.4" stroke="#f1f1f1" stroke-width="0.8"/>
<line x1="241.76" y1="558.6" x2="241.76" y2="645.4" stroke="#f1f1f1" stroke-width="0.8"/>
<line x1="245.13" y1="558.6" x2="245.13" y2="645.4" stroke="#f1f1f1" stroke-width="0.8"/>
<line x1="248.51" y1="558.6" x2="248.51" y2="645.4" stroke="#f1f1f1" stroke-width="0.8"/>
<line x1="251.89" y1="558.6" x2="251.89" y2="645.4" stroke="#f1f1f1" stroke-width="0.8"/>
<line x1="255.27" y1="558.6" x2="255.27" y2="645.4" stroke="#f1f1f1" stroke-width="0.8"/>
<line x1="258.64" y1="558.6" x2="258.64" y2="645.4" stroke="#f1f1f1" stroke-width="0.8"/>
<line x1="262.02" y1="558.6" x2="262.02" y2="645.4" stroke="#f1f1f1" stroke-width="0.8"/>
<line x1="265.40" y1="558.6" x2="265.40" y2="645.4" stroke="#f1f1f1" stroke-width="0.8"/>
<line x1="268.78" y1="558.6" x2="268.78" y2="645.4" stroke="#f1f1f1" stroke-width="0.8"/>
<line x1="272.16" y1="558.6" x2="272.16" y2="645.4" stroke="#f1f1f1" stroke-width="0.8"/>
<line x1="275.53" y1="558.6" x2="275.53" y2="645.4" stroke="#f1f1f1" stroke-width="0.8"/>
<line x1="278.91" y1="558.6" x2="278.91" y2="645.4" stroke="#f1f1f1" stroke-width="0.8"/>
<line x1="282.29" y1="558.6" x2="282.29" y2="645.4" stroke="#f1f1f1" stroke-width="0.8"/>
<line x1="285.67" y1="558.6" x2="285.67" y2="645.4" stroke="#f1f1f1" stroke-width="0.8"/>
<line x1="289.04" y1="558.6" x2="289.04" y2="645.4" stroke="#f1f1f1" stroke-width="0.8"/>
<line x1="292.42" y1="558.6" x2="292.42" y2="645.4" stroke="#f1f1f1" stroke-width="0.8"/>
<line x1="295.80" y1="558.6" x2="295.80" y2="645.4" stroke="#f1f1f1" stroke-width="0.8"/>
<line x1="299.18" y1="558.6" x2="299.18" y2="645.4" stroke="#f1f1f1" stroke-width="0.8"/>
<line x1="302.56" y1="558.6" x2="302.56" y2="645.4" stroke="#f1f1f1" stroke-width="0.8"/>
<line x1="305.93" y1="558.6" x2="305.93" y2="645.4" stroke="#f1f1f1" stroke-width="0.8"/>
<line x1="309.31" y1="558.6" x2="309.31" y2="645.4" stroke="#f1f1f1" stroke-width="0.8"/>
<line x1="312.69" y1="558.6" x2="312.69" y2="645.4" stroke="#f1f1f1" stroke-width="0.8"/>
<line x1="316.07" y1="558.6" x2="316.07" y2="645.4" stroke="#f1f1f1" stroke-width="0.8"/>
<line x1="319.44" y1="558.6" x2="319.44" y2="645.4" stroke="#f1f1f1" stroke-width="0.8"/>
<line x1="322.82" y1="558.6" x2="322.82" y2="645.4" stroke="#f1f1f1" stroke-width="0.8"/>
<rect x="204.6" y="558.6" width="121.60" height="86.80" fill="none" stroke="#d0d0d0" stroke-width="0.8"/>
<rect x="228.3" y="577.7" width="3.75" height="53.80" fill="#4f86c6"/>
<rect x="292.3" y="558.6" width="3.45" height="72.90" fill="#4f86c6"/>
<rect x="295.4" y="597.7" width="4.05" height="9.20" fill="#4f86c6"/>
<rect x="319.4" y="558.6" width="7.15" height="86.80" fill="#4f86c6"/>
<line x1="299.1" y1="558.6" x2="299.1" y2="645.4" stroke="#111" stroke-width="1.1"/>
<text x="207.10" y="650.7" font-size="6.5" font-weight="bold" fill="#333" textLength="5" lengthAdjust="spacingAndGlyphs">1D</text>
<text x="213.86" y="650.7" font-size="6.5" font-weight="bold" fill="#333" textLength="5" lengthAdjust="spacingAndGlyphs">2D</text>
<text x="220.61" y="650.7" font-size="6.5" font-weight="bold" fill="#333" textLength="5" lengthAdjust="spacingAndGlyphs">3D</text>
<text x="227.37" y="650.7" font-size="6.5" font-weight="bold" fill="#333" textLength="5" lengthAdjust="spacingAndGlyphs">4D</text>
<text x="234.12" y="650.7" font-size="6.5" font-weight="bold" fill="#333" textLength="5" lengthAdjust="spacingAndGlyphs">5D</text>
<text x="240.88" y="650.7" font-size="6.5" font-weight="bold" fill="#333" textLength="5" lengthAdjust="spacingAndGlyphs">6D</text>
<text x="247.63" y="650.7" font-size="6.5" font-weight="bold" fill="#333" textLength="5" lengthAdjust="spacingAndGlyphs">7D</text>
<text x="254.39" y="650.7" font-size="6.5" font-weight="bold" fill="#333" textLength="5" lengthAdjust="spacingAndGlyphs">8D</text>
<text x="261.14" y="650.7" font-size="6.5" font-weight="bold" fill="#333" textLength="5" lengthAdjust="spacingAndGlyphs">9D</text>
<text x="267.90" y="650.7" font-size="6.5" font-weight="bold" fill="#333" textLength="5" lengthAdjust="spacingAndGlyphs">10</text>
<text x="274.66" y="650.7" font-size="6.5" font-weight="bold" fill="#333" textLength="5" lengthAdjust="spacingAndGlyphs">11</text>
<text x="281.41" y="650.7" font-size="6.5" font-weight="bold" fill="#333" textLength="5" lengthAdjust="spacingAndGlyphs">12</text>
<text x="288.17" y="650.7" font-size="6.5" font-weight="bold" fill="#333" textLength="5" lengthAdjust="spacingAndGlyphs">13</text>
<text x="294.92" y="650.7" font-size="6.5" font-weight="bold" fill="#333" textLength="5" lengthAdjust="spacingAndGlyphs">14</text>
<text x="301.68" y="650.7" font-size="6.5" font-weight="bold" fill="#333" textLength="5" lengthAdjust="spacingAndGlyphs">15</text>
<text x="308.43" y="650.7" font-size="6.5" font-weight="bold" fill="#333" textLength="5" lengthAdjust="spacingAndGlyphs">16</text>
<text x="315.19" y="650.7" font-size="6.5" font-weight="bold" fill="#333" textLength="5" lengthAdjust="spacingAndGlyphs">17</text>
<text x="321.94" y="650.7" font-size="6.5" font-weight="bold" fill="#333" textLength="5" lengthAdjust="spacingAndGlyphs">18</text>
<text x="328.6" y="565.9" font-size="8" fill="#111">chr.4</text>
<text x="328.6" y="571.0" font-size="6" fill="#111">149.13</text>
<text x="328.6" y="609.9" font-size="8.2" fill="#111">NR3C2</text>
<text x="328.6" y="649.8" font-size="6" fill="#111">150.17</text>
<line x1="363.16" y1="558.2" x2="363.16" y2="645.0" stroke="#f1f1f1" stroke-width="0.8"/>
<line x1="366.52" y1="558.2" x2="366.52" y2="645.0" stroke="#f1f1f1" stroke-width="0.8"/>
<line x1="369.88" y1="558.2" x2="369.88" y2="645.0" stroke="#f1f1f1" stroke-width="0.8"/>
<line x1="373.24" y1="558.2" x2="373.24" y2="645.0" stroke="#f1f1f1" stroke-width="0.8"/>
<line x1="376.61" y1="558.2" x2="376.61" y2="645.0" stroke="#f1f1f1" stroke-width="0.8"/>
<line x1="379.97" y1="558.2" x2="379.97" y2="645.0" stroke="#f1f1f1" stroke-width="0.8"/>
<line x1="383.33" y1="558.2" x2="383.33" y2="645.0" stroke="#f1f1f1" stroke-width="0.8"/>
<line x1="386.69" y1="558.2" x2="386.69" y2="645.0" stroke="#f1f1f1" stroke-width="0.8"/>
<line x1="390.05" y1="558.2" x2="390.05" y2="645.0" stroke="#f1f1f1" stroke-width="0.8"/>
<line x1="393.41" y1="558.2" x2="393.41" y2="645.0" stroke="#f1f1f1" stroke-width="0.8"/>
<line x1="396.77" y1="558.2" x2="396.77" y2="645.0" stroke="#f1f1f1" stroke-width="0.8"/>
<line x1="400.13" y1="558.2" x2="400.13" y2="645.0" stroke="#f1f1f1" stroke-width="0.8"/>
<line x1="403.49" y1="558.2" x2="403.49" y2="645.0" stroke="#f1f1f1" stroke-width="0.8"/>
<line x1="406.86" y1="558.2" x2="406.86" y2="645.0" stroke="#f1f1f1" stroke-width="0.8"/>
<line x1="410.22" y1="558.2" x2="410.22" y2="645.0" stroke="#f1f1f1" stroke-width="0.8"/>
<line x1="413.58" y1="558.2" x2="413.58" y2="645.0" stroke="#f1f1f1" stroke-width="0.8"/>
<line x1="416.94" y1="558.2" x2="416.94" y2="645.0" stroke="#f1f1f1" stroke-width="0.8"/>
<line x1="420.30" y1="558.2" x2="420.30" y2="645.0" stroke="#f1f1f1" stroke-width="0.8"/>
<line x1="423.66" y1="558.2" x2="423.66" y2="645.0" stroke="#f1f1f1" stroke-width="0.8"/>
<line x1="427.02" y1="558.2" x2="427.02" y2="645.0" stroke="#f1f1f1" stroke-width="0.8"/>
<line x1="430.38" y1="558.2" x2="430.38" y2="645.0" stroke="#f1f1f1" stroke-width="0.8"/>
<line x1="433.74" y1="558.2" x2="433.74" y2="645.0" stroke="#f1f1f1" stroke-width="0.8"/>
<line x1="437.11" y1="558.2" x2="437.11" y2="645.0" stroke="#f1f1f1" stroke-width="0.8"/>
<line x1="440.47" y1="558.2" x2="440.47" y2="645.0" stroke="#f1f1f1" stroke-width="0.8"/>
<line x1="443.83" y1="558.2" x2="443.83" y2="645.0" stroke="#f1f1f1" stroke-width="0.8"/>
<line x1="447.19" y1="558.2" x2="447.19" y2="645.0" stroke="#f1f1f1" stroke-width="0.8"/>
<line x1="450.55" y1="558.2" x2="450.55" y2="645.0" stroke="#f1f1f1" stroke-width="0.8"/>
<line x1="453.91" y1="558.2" x2="453.91" y2="645.0" stroke="#f1f1f1" stroke-width="0.8"/>
<line x1="457.27" y1="558.2" x2="457.27" y2="645.0" stroke="#f1f1f1" stroke-width="0.8"/>
<line x1="460.63" y1="558.2" x2="460.63" y2="645.0" stroke="#f1f1f1" stroke-width="0.8"/>
<line x1="463.99" y1="558.2" x2="463.99" y2="645.0" stroke="#f1f1f1" stroke-width="0.8"/>
<line x1="467.36" y1="558.2" x2="467.36" y2="645.0" stroke="#f1f1f1" stroke-width="0.8"/>
<line x1="470.72" y1="558.2" x2="470.72" y2="645.0" stroke="#f1f1f1" stroke-width="0.8"/>
<line x1="474.08" y1="558.2" x2="474.08" y2="645.0" stroke="#f1f1f1" stroke-width="0.8"/>
<line x1="477.44" y1="558.2" x2="477.44" y2="645.0" stroke="#f1f1f1" stroke-width="0.8"/>
<rect x="359.8" y="558.2" width="121.00" height="86.80" fill="none" stroke="#d0d0d0" stroke-width="0.8"/>
<rect x="382.7" y="558.2" width="3.65" height="86.80" fill="#4f86c6"/>
<line x1="454.0" y1="558.2" x2="454.0" y2="645.0" stroke="#111" stroke-width="1.1"/>
<text x="362.30" y="650.3" font-size="6.5" font-weight="bold" fill="#333" textLength="5" lengthAdjust="spacingAndGlyphs">1D</text>
<text x="369.02" y="650.3" font-size="6.5" font-weight="bold" fill="#333" textLength="5" lengthAdjust="spacingAndGlyphs">2D</text>
<text x="375.74" y="650.3" font-size="6.5" font-weight="bold" fill="#333" textLength="5" lengthAdjust="spacingAndGlyphs">3D</text>
<text x="382.47" y="650.3" font-size="6.5" font-weight="bold" fill="#333" textLength="5" lengthAdjust="spacingAndGlyphs">4D</text>
<text x="389.19" y="650.3" font-size="6.5" font-weight="bold" fill="#333" textLength="5" lengthAdjust="spacingAndGlyphs">5D</text>
<text x="395.91" y="650.3" font-size="6.5" font-weight="bold" fill="#333" textLength="5" lengthAdjust="spacingAndGlyphs">6D</text>
<text x="402.63" y="650.3" font-size="6.5" font-weight="bold" fill="#333" textLength="5" lengthAdjust="spacingAndGlyphs">7D</text>
<text x="409.36" y="650.3" font-size="6.5" font-weight="bold" fill="#333" textLength="5" lengthAdjust="spacingAndGlyphs">8D</text>
<text x="416.08" y="650.3" font-size="6.5" font-weight="bold" fill="#333" textLength="5" lengthAdjust="spacingAndGlyphs">9D</text>
<text x="422.80" y="650.3" font-size="6.5" font-weight="bold" fill="#333" textLength="5" lengthAdjust="spacingAndGlyphs">10</text>
<text x="429.52" y="650.3" font-size="6.5" font-weight="bold" fill="#333" textLength="5" lengthAdjust="spacingAndGlyphs">11</text>
<text x="436.24" y="650.3" font-size="6.5" font-weight="bold" fill="#333" textLength="5" lengthAdjust="spacingAndGlyphs">12</text>
<text x="442.97" y="650.3" font-size="6.5" font-weight="bold" fill="#333" textLength="5" lengthAdjust="spacingAndGlyphs">13</text>
<text x="449.69" y="650.3" font-size="6.5" font-weight="bold" fill="#333" textLength="5" lengthAdjust="spacingAndGlyphs">14</text>
<text x="456.41" y="650.3" font-size="6.5" font-weight="bold" fill="#333" textLength="5" lengthAdjust="spacingAndGlyphs">15</text>
<text x="463.13" y="650.3" font-size="6.5" font-weight="bold" fill="#333" textLength="5" lengthAdjust="spacingAndGlyphs">16</text>
<text x="469.86" y="650.3" font-size="6.5" font-weight="bold" fill="#333" textLength="5" lengthAdjust="spacingAndGlyphs">17</text>
<text x="476.58" y="650.3" font-size="6.5" font-weight="bold" fill="#333" textLength="5" lengthAdjust="spacingAndGlyphs">18</text>
<text x="486.6" y="565.9" font-size="8" fill="#111">chr.2</text>
<text x="486.6" y="571.6" font-size="6" fill="#111">47.32</text>
<text x="486.6" y="613.4" font-size="8.2" fill="#111">MSH2</text>
<text x="486.6" y="649.4" font-size="6" fill="#111">47.77</text>
<line x1="127.16" y1="668.7" x2="127.16" y2="755.5" stroke="#f1f1f1" stroke-width="0.8"/>
<line x1="130.52" y1="668.7" x2="130.52" y2="755.5" stroke="#f1f1f1" stroke-width="0.8"/>
<line x1="133.88" y1="668.7" x2="133.88" y2="755.5" stroke="#f1f1f1" stroke-width="0.8"/>
<line x1="137.23" y1="668.7" x2="137.23" y2="755.5" stroke="#f1f1f1" stroke-width="0.8"/>
<line x1="140.59" y1="668.7" x2="140.59" y2="755.5" stroke="#f1f1f1" stroke-width="0.8"/>
<line x1="143.95" y1="668.7" x2="143.95" y2="755.5" stroke="#f1f1f1" stroke-width="0.8"/>
<line x1="147.31" y1="668.7" x2="147.31" y2="755.5" stroke="#f1f1f1" stroke-width="0.8"/>
<line x1="150.67" y1="668.7" x2="150.67" y2="755.5" stroke="#f1f1f1" stroke-width="0.8"/>
<line x1="154.03" y1="668.7" x2="154.03" y2="755.5" stroke="#f1f1f1" stroke-width="0.8"/>
<line x1="157.38" y1="668.7" x2="157.38" y2="755.5" stroke="#f1f1f1" stroke-width="0.8"/>
<line x1="160.74" y1="668.7" x2="160.74" y2="755.5" stroke="#f1f1f1" stroke-width="0.8"/>
<line x1="164.10" y1="668.7" x2="164.10" y2="755.5" stroke="#f1f1f1" stroke-width="0.8"/>
<line x1="167.46" y1="668.7" x2="167.46" y2="755.5" stroke="#f1f1f1" stroke-width="0.8"/>
<line x1="170.82" y1="668.7" x2="170.82" y2="755.5" stroke="#f1f1f1" stroke-width="0.8"/>
<line x1="174.17" y1="668.7" x2="174.17" y2="755.5" stroke="#f1f1f1" stroke-width="0.8"/>
<line x1="177.53" y1="668.7" x2="177.53" y2="755.5" stroke="#f1f1f1" stroke-width="0.8"/>
<line x1="180.89" y1="668.7" x2="180.89" y2="755.5" stroke="#f1f1f1" stroke-width="0.8"/>
<line x1="184.25" y1="668.7" x2="184.25" y2="755.5" stroke="#f1f1f1" stroke-width="0.8"/>
<line x1="187.61" y1="668.7" x2="187.61" y2="755.5" stroke="#f1f1f1" stroke-width="0.8"/>
<line x1="190.97" y1="668.7" x2="190.97" y2="755.5" stroke="#f1f1f1" stroke-width="0.8"/>
<line x1="194.32" y1="668.7" x2="194.32" y2="755.5" stroke="#f1f1f1" stroke-width="0.8"/>
<line x1="197.68" y1="668.7" x2="197.68" y2="755.5" stroke="#f1f1f1" stroke-width="0.8"/>
<line x1="201.04" y1="668.7" x2="201.04" y2="755.5" stroke="#f1f1f1" stroke-width="0.8"/>
<line x1="204.40" y1="668.7" x2="204.40" y2="755.5" stroke="#f1f1f1" stroke-width="0.8"/>
<line x1="207.76" y1="668.7" x2="207.76" y2="755.5" stroke="#f1f1f1" stroke-width="0.8"/>
<line x1="211.12" y1="668.7" x2="211.12" y2="755.5" stroke="#f1f1f1" stroke-width="0.8"/>
<line x1="214.47" y1="668.7" x2="214.47" y2="755.5" stroke="#f1f1f1" stroke-width="0.8"/>
<line x1="217.83" y1="668.7" x2="217.83" y2="755.5" stroke="#f1f1f1" stroke-width="0.8"/>
<line x1="221.19" y1="668.7" x2="221.19" y2="755.5" stroke="#f1f1f1" stroke-width="0.8"/>
<line x1="224.55" y1="668.7" x2="224.55" y2="755.5" stroke="#f1f1f1" stroke-width="0.8"/>
<line x1="227.91" y1="668.7" x2="227.91" y2="755.5" stroke="#f1f1f1" stroke-width="0.8"/>
<line x1="231.27" y1="668.7" x2="231.27" y2="755.5" stroke="#f1f1f1" stroke-width="0.8"/>
<line x1="234.62" y1="668.7" x2="234.62" y2="755.5" stroke="#f1f1f1" stroke-width="0.8"/>
<line x1="237.98" y1="668.7" x2="237.98" y2="755.5" stroke="#f1f1f1" stroke-width="0.8"/>
<line x1="241.34" y1="668.7" x2="241.34" y2="755.5" stroke="#f1f1f1" stroke-width="0.8"/>
<rect x="123.8" y="668.7" width="120.90" height="86.80" fill="none" stroke="#d0d0d0" stroke-width="0.8"/>
<rect x="228.2" y="668.7" width="3.85" height="86.80" fill="#4f86c6"/>
<rect x="235.1" y="686.3" width="3.35" height="34.60" fill="#4f86c6"/>
<line x1="217.3" y1="668.7" x2="217.3" y2="755.5" stroke="#111" stroke-width="1.1"/>
<text x="126.30" y="760.8" font-size="6.5" font-weight="bold" fill="#333" textLength="5" lengthAdjust="spacingAndGlyphs">1D</text>
<text x="133.02" y="760.8" font-size="6.5" font-weight="bold" fill="#333" textLength="5" lengthAdjust="spacingAndGlyphs">2D</text>
<text x="139.73" y="760.8" font-size="6.5" font-weight="bold" fill="#333" textLength="5" lengthAdjust="spacingAndGlyphs">3D</text>
<text x="146.45" y="760.8" font-size="6.5" font-weight="bold" fill="#333" textLength="5" lengthAdjust="spacingAndGlyphs">4D</text>
<text x="153.17" y="760.8" font-size="6.5" font-weight="bold" fill="#333" textLength="5" lengthAdjust="spacingAndGlyphs">5D</text>
<text x="159.88" y="760.8" font-size="6.5" font-weight="bold" fill="#333" textLength="5" lengthAdjust="spacingAndGlyphs">6D</text>
<text x="166.60" y="760.8" font-size="6.5" font-weight="bold" fill="#333" textLength="5" lengthAdjust="spacingAndGlyphs">7D</text>
<text x="173.32" y="760.8" font-size="6.5" font-weight="bold" fill="#333" textLength="5" lengthAdjust="spacingAndGlyphs">8D</text>
<text x="180.03" y="760.8" font-size="6.5" font-weight="bold" fill="#333" textLength="5" lengthAdjust="spacingAndGlyphs">9D</text>
<text x="186.75" y="760.8" font-size="6.5" font-weight="bold" fill="#333" textLength="5" lengthAdjust="spacingAndGlyphs">10</text>
<text x="193.47" y="760.8" font-size="6.5" font-weight="bold" fill="#333" textLength="5" lengthAdjust="spacingAndGlyphs">11</text>
<text x="200.18" y="760.8" font-size="6.5" font-weight="bold" fill="#333" textLength="5" lengthAdjust="spacingAndGlyphs">12</text>
<text x="206.90" y="760.8" font-size="6.5" font-weight="bold" fill="#333" textLength="5" lengthAdjust="spacingAndGlyphs">13</text>
<text x="213.62" y="760.8" font-size="6.5" font-weight="bold" fill="#333" textLength="5" lengthAdjust="spacingAndGlyphs">14</text>
<text x="220.33" y="760.8" font-size="6.5" font-weight="bold" fill="#333" textLength="5" lengthAdjust="spacingAndGlyphs">15</text>
<text x="227.05" y="760.8" font-size="6.5" font-weight="bold" fill="#333" textLength="5" lengthAdjust="spacingAndGlyphs">16</text>
<text x="233.77" y="760.8" font-size="6.5" font-weight="bold" fill="#333" textLength="5" lengthAdjust="spacingAndGlyphs">17</text>
<text x="240.48" y="760.8" font-size="6.5" font-weight="bold" fill="#333" textLength="5" lengthAdjust="spacingAndGlyphs">18</text>
<text x="250.2" y="676.4" font-size="8" fill="#111">chr.3</text>
<text x="250.2" y="682.5" font-size="6" fill="#111">21.10</text>
<text x="250.2" y="715.7" font-size="8.2" fill="#111">MLH1</text>
<text x="250.2" y="760.7" font-size="6" fill="#111">73.30</text>
<line x1="287.69" y1="667.8" x2="287.69" y2="756.0" stroke="#f1f1f1" stroke-width="0.8"/>
<line x1="291.08" y1="667.8" x2="291.08" y2="756.0" stroke="#f1f1f1" stroke-width="0.8"/>
<line x1="294.47" y1="667.8" x2="294.47" y2="756.0" stroke="#f1f1f1" stroke-width="0.8"/>
<line x1="297.86" y1="667.8" x2="297.86" y2="756.0" stroke="#f1f1f1" stroke-width="0.8"/>
<line x1="301.24" y1="667.8" x2="301.24" y2="756.0" stroke="#f1f1f1" stroke-width="0.8"/>
<line x1="304.63" y1="667.8" x2="304.63" y2="756.0" stroke="#f1f1f1" stroke-width="0.8"/>
<line x1="308.02" y1="667.8" x2="308.02" y2="756.0" stroke="#f1f1f1" stroke-width="0.8"/>
<line x1="311.41" y1="667.8" x2="311.41" y2="756.0" stroke="#f1f1f1" stroke-width="0.8"/>
<line x1="314.80" y1="667.8" x2="314.80" y2="756.0" stroke="#f1f1f1" stroke-width="0.8"/>
<line x1="318.19" y1="667.8" x2="318.19" y2="756.0" stroke="#f1f1f1" stroke-width="0.8"/>
<line x1="321.58" y1="667.8" x2="321.58" y2="756.0" stroke="#f1f1f1" stroke-width="0.8"/>
<line x1="324.97" y1="667.8" x2="324.97" y2="756.0" stroke="#f1f1f1" stroke-width="0.8"/>
<line x1="328.36" y1="667.8" x2="328.36" y2="756.0" stroke="#f1f1f1" stroke-width="0.8"/>
<line x1="331.74" y1="667.8" x2="331.74" y2="756.0" stroke="#f1f1f1" stroke-width="0.8"/>
<line x1="335.13" y1="667.8" x2="335.13" y2="756.0" stroke="#f1f1f1" stroke-width="0.8"/>
<line x1="338.52" y1="667.8" x2="338.52" y2="756.0" stroke="#f1f1f1" stroke-width="0.8"/>
<line x1="341.91" y1="667.8" x2="341.91" y2="756.0" stroke="#f1f1f1" stroke-width="0.8"/>
<line x1="345.30" y1="667.8" x2="345.30" y2="756.0" stroke="#f1f1f1" stroke-width="0.8"/>
<line x1="348.69" y1="667.8" x2="348.69" y2="756.0" stroke="#f1f1f1" stroke-width="0.8"/>
<line x1="352.08" y1="667.8" x2="352.08" y2="756.0" stroke="#f1f1f1" stroke-width="0.8"/>
<line x1="355.47" y1="667.8" x2="355.47" y2="756.0" stroke="#f1f1f1" stroke-width="0.8"/>
<line x1="358.86" y1="667.8" x2="358.86" y2="756.0" stroke="#f1f1f1" stroke-width="0.8"/>
<line x1="362.24" y1="667.8" x2="362.24" y2="756.0" stroke="#f1f1f1" stroke-width="0.8"/>
<line x1="365.63" y1="667.8" x2="365.63" y2="756.0" stroke="#f1f1f1" stroke-width="0.8"/>
<line x1="369.02" y1="667.8" x2="369.02" y2="756.0" stroke="#f1f1f1" stroke-width="0.8"/>
<line x1="372.41" y1="667.8" x2="372.41" y2="756.0" stroke="#f1f1f1" stroke-width="0.8"/>
<line x1="375.80" y1="667.8" x2="375.80" y2="756.0" stroke="#f1f1f1" stroke-width="0.8"/>
<line x1="379.19" y1="667.8" x2="379.19" y2="756.0" stroke="#f1f1f1" stroke-width="0.8"/>
<line x1="382.58" y1="667.8" x2="382.58" y2="756.0" stroke="#f1f1f1" stroke-width="0.8"/>
<line x1="385.97" y1="667.8" x2="385.97" y2="756.0" stroke="#f1f1f1" stroke-width="0.8"/>
<line x1="389.36" y1="667.8" x2="389.36" y2="756.0" stroke="#f1f1f1" stroke-width="0.8"/>
<line x1="392.74" y1="667.8" x2="392.74" y2="756.0" stroke="#f1f1f1" stroke-width="0.8"/>
<line x1="396.13" y1="667.8" x2="396.13" y2="756.0" stroke="#f1f1f1" stroke-width="0.8"/>
<line x1="399.52" y1="667.8" x2="399.52" y2="756.0" stroke="#f1f1f1" stroke-width="0.8"/>
<line x1="402.91" y1="667.8" x2="402.91" y2="756.0" stroke="#f1f1f1" stroke-width="0.8"/>
<rect x="284.3" y="667.8" width="122.00" height="88.20" fill="none" stroke="#d0d0d0" stroke-width="0.8"/>
<rect x="298.7" y="667.8" width="6.75" height="88.20" fill="#4f86c6"/>
<rect x="345.2" y="692.5" width="6.95" height="1.60" fill="#4f86c6"/>
<rect x="379.3" y="691.8" width="6.65" height="50.60" fill="#4f86c6"/>
<line x1="379.3" y1="667.8" x2="379.3" y2="756.0" stroke="#111" stroke-width="1.1"/>
<text x="286.80" y="761.3" font-size="6.5" font-weight="bold" fill="#333" textLength="5" lengthAdjust="spacingAndGlyphs">1D</text>
<text x="293.58" y="761.3" font-size="6.5" font-weight="bold" fill="#333" textLength="5" lengthAdjust="spacingAndGlyphs">2D</text>
<text x="300.36" y="761.3" font-size="6.5" font-weight="bold" fill="#333" textLength="5" lengthAdjust="spacingAndGlyphs">3D</text>
<text x="307.13" y="761.3" font-size="6.5" font-weight="bold" fill="#333" textLength="5" lengthAdjust="spacingAndGlyphs">4D</text>
<text x="313.91" y="761.3" font-size="6.5" font-weight="bold" fill="#333" textLength="5" lengthAdjust="spacingAndGlyphs">5D</text>
<text x="320.69" y="761.3" font-size="6.5" font-weight="bold" fill="#333" textLength="5" lengthAdjust="spacingAndGlyphs">6D</text>
<text x="327.47" y="761.3" font-size="6.5" font-weight="bold" fill="#333" textLength="5" lengthAdjust="spacingAndGlyphs">7D</text>
<text x="334.24" y="761.3" font-size="6.5" font-weight="bold" fill="#333" textLength="5" lengthAdjust="spacingAndGlyphs">8D</text>
<text x="341.02" y="761.3" font-size="6.5" font-weight="bold" fill="#333" textLength="5" lengthAdjust="spacingAndGlyphs">9D</text>
<text x="347.80" y="761.3" font-size="6.5" font-weight="bold" fill="#333" textLength="5" lengthAdjust="spacingAndGlyphs">10</text>
<text x="354.58" y="761.3" font-size="6.5" font-weight="bold" fill="#333" textLength="5" lengthAdjust="spacingAndGlyphs">11</text>
<text x="361.36" y="761.3" font-size="6.5" font-weight="bold" fill="#333" textLength="5" lengthAdjust="spacingAndGlyphs">12</text>
<text x="368.13" y="761.3" font-size="6.5" font-weight="bold" fill="#333" textLength="5" lengthAdjust="spacingAndGlyphs">13</text>
<text x="374.91" y="761.3" font-size="6.5" font-weight="bold" fill="#333" textLength="5" lengthAdjust="spacingAndGlyphs">14</text>
<text x="381.69" y="761.3" font-size="6.5" font-weight="bold" fill="#333" textLength="5" lengthAdjust="spacingAndGlyphs">15</text>
<text x="388.47" y="761.3" font-size="6.5" font-weight="bold" fill="#333" textLength="5" lengthAdjust="spacingAndGlyphs">16</text>
<text x="395.24" y="761.3" font-size="6.5" font-weight="bold" fill="#333" textLength="5" lengthAdjust="spacingAndGlyphs">17</text>
<text x="402.02" y="761.3" font-size="6.5" font-weight="bold" fill="#333" textLength="5" lengthAdjust="spacingAndGlyphs">18</text>
<text x="411.5" y="675.7" font-size="8" fill="#111">chr.15</text>
<text x="411.5" y="682.0" font-size="6" fill="#111">36.36</text>
<text x="411.5" y="707.9" font-size="8.2" fill="#111">BMF</text>
<text x="411.5" y="760.6" font-size="6" fill="#111">42.89</text>
<path d="M165.39999999999998,386.0 Q163.2,386.0 163.2,388.2 L163.2,393.3 Q163.2,395.3 161.2,395.3 Q163.2,395.3 163.2,397.3 L163.2,402.40000000000003 Q163.2,404.6 165.39999999999998,404.6" fill="none" stroke="#000" stroke-width="1.6"/>
<path d="M485.59999999999997,385.0 Q483.4,385.0 483.4,387.2 L483.4,392.5 Q483.4,394.5 481.4,394.5 Q483.4,394.5 483.4,396.5 L483.4,401.8 Q483.4,404.0 485.59999999999997,404.0" fill="none" stroke="#000" stroke-width="1.6"/>
</svg></body></html>
